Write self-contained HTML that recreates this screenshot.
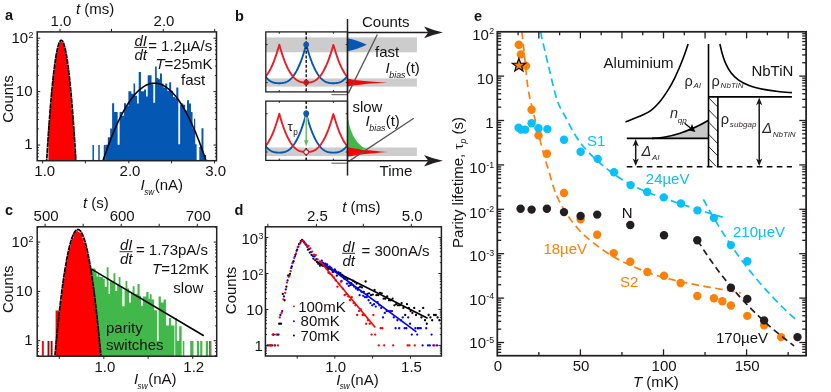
<!DOCTYPE html>
<html><head><meta charset="utf-8"><title>figure</title>
<style>html,body{margin:0;padding:0;background:#fff;}body{width:831px;height:392px;overflow:hidden;font-family:"Liberation Sans",sans-serif;}svg{display:block;}</style>
</head><body>
<svg style="will-change:transform" width="831" height="392" viewBox="0 0 831 392" font-family="'Liberation Sans', sans-serif">
<rect width="831" height="392" fill="#ffffff"/>
<path d="M48.4 160.7 V125 H49.85 V105.96 H51.3 V90.63 H52.75 V75.52 H54.2 V64.85 H55.65 V55.29 H57.1 V47.81 H58.55 V44.22 H60 V41.16 H61.45 V42.2 H62.9 V44.08 H64.35 V49.1 H65.8 V57.12 H67.25 V67.64 H68.7 V78.31 H70.15 V92.96 H71.6 V110.58 H73.05 V130.41 H74.5 V151.21 H75.95 V160.7 Z" stroke="none" fill="#ff0000" stroke-width="1.2"/>
<path d="M92.45 160.7 V145 h1.5 V160.7 ZM98.25 160.7 V145 h1.5 V160.7 ZM103.75 160.7 V145 h1.5 V160.7 ZM105.4 160.7 V144.8 H107.85 V160.7 ZM107.8 160.7 V137.2 H110.25 V160.7 ZM110.2 160.7 V128.5 H112.15 V160.7 ZM112.1 160.7 V103.2 H114.15 V160.7 ZM114.1 160.7 V111.9 H117.65 V160.7 ZM117.6 160.7 V144.8 H119.65 V160.7 ZM119.6 160.7 V111.9 H122.05 V160.7 ZM122 160.7 V115.8 H124.05 V160.7 ZM124 160.7 V103.2 H126.05 V160.7 ZM126 160.7 V106.3 H128.45 V160.7 ZM128.4 160.7 V91.3 H131.35 V160.7 ZM131.3 160.7 V93.8 H133.55 V160.7 ZM133.5 160.7 V83.6 H135.15 V160.7 ZM135.1 160.7 V95.8 H137.05 V160.7 ZM137 160.7 V103.4 H138.75 V160.7 ZM138.7 160.7 V72.1 H140.95 V160.7 ZM140.9 160.7 V91.3 H144.15 V160.7 ZM144.1 160.7 V89.4 H146.05 V160.7 ZM146 160.7 V96.4 H147.75 V160.7 ZM147.7 160.7 V75.3 H151.55 V160.7 ZM151.5 160.7 V84.3 H153.35 V160.7 ZM153.3 160.7 V102.8 H155.15 V160.7 ZM155.1 160.7 V66.6 H156.75 V160.7 ZM156.7 160.7 V77.9 H158.35 V160.7 ZM158.3 160.7 V79.2 H160.05 V160.7 ZM160 160.7 V73.4 H161.95 V160.7 ZM161.9 160.7 V83.6 H163.45 V160.7 ZM163.4 160.7 V87.5 H165.35 V160.7 ZM165.3 160.7 V83.6 H167.25 V160.7 ZM167.2 160.7 V90.7 H169.25 V160.7 ZM169.2 160.7 V82.3 H171.15 V160.7 ZM171.1 160.7 V90.7 H173.05 V160.7 ZM173 160.7 V97 H174.95 V160.7 ZM174.9 160.7 V98.3 H176.35 V160.7 ZM176.3 160.7 V87.5 H178.35 V160.7 ZM178.3 160.7 V144.2 H180.15 V160.7 ZM180.1 160.7 V104.7 H181.55 V160.7 ZM181.5 160.7 V103.4 H183.25 V160.7 ZM183.2 160.7 V104.7 H185.15 V160.7 ZM185.1 160.7 V110.5 H187.05 V160.7 ZM187 160.7 V100.2 H189.05 V160.7 ZM189 160.7 V103.4 H190.95 V160.7 ZM190.9 160.7 V112 H192.55 V160.7 ZM192.5 160.7 V128.3 H194.05 V160.7 ZM194 160.7 V118.8 H195.25 V160.7 ZM195.2 160.7 V144.2 H196.65 V160.7 ZM199.3 160.7 V147 H201.55 V160.7 ZM201.5 160.7 V128.3 H203.45 V160.7 ZM203.4 160.7 V155 H206.05 V160.7 Z" stroke="none" fill="#0458b4" stroke-width="1.2"/>
<clipPath id="cpa"><rect x="37.2" y="31.9" width="179.3" height="128.8"/></clipPath><g clip-path="url(#cpa)">
<path d="M45.5 180.84 L46 172.08 L46.5 163.61 L47 155.42 L47.5 147.51 L48 139.88 L48.5 132.53 L49 125.47 L49.5 118.69 L50 112.18 L50.5 105.96 L51 100.02 L51.5 94.37 L52 88.99 L52.5 83.9 L53 79.08 L53.5 74.55 L54 70.3 L54.5 66.33 L55 62.64 L55.5 59.24 L56 56.11 L56.5 53.27 L57 50.71 L57.5 48.43 L58 46.43 L58.5 44.71 L59 43.28 L59.5 42.12 L60 41.25 L60.5 40.66 L61 40.35 L61.5 40.32 L62 40.58 L62.5 41.11 L63 41.93 L63.5 43.02 L64 44.4 L64.5 46.06 L65 48.01 L65.5 50.23 L66 52.74 L66.5 55.52 L67 58.59 L67.5 61.94 L68 65.57 L68.5 69.48 L69 73.68 L69.5 78.15 L70 82.91 L70.5 87.95 L71 93.27 L71.5 98.87 L72 104.75 L72.5 110.92 L73 117.36 L73.5 124.09 L74 131.1 L74.5 138.39 L75 145.96 L75.5 153.81 L76 161.95 L76.5 170.37 L77 179.06 L77.5 188.04" stroke="#000" fill="none" stroke-width="1.7" stroke-dasharray="5 0.6"/>
<path d="M101 166.84 L102 163.74 L103 160.7 L104 157.72 L105 154.8 L106 151.93 L107 149.13 L108 146.38 L109 143.69 L110 141.06 L111 138.49 L112 135.98 L113 133.53 L114 131.13 L115 128.79 L116 126.51 L117 124.29 L118 122.13 L119 120.03 L120 117.98 L121 115.99 L122 114.06 L123 112.19 L124 110.38 L125 108.63 L126 106.93 L127 105.3 L128 103.72 L129 102.2 L130 100.74 L131 99.34 L132 97.99 L133 96.71 L134 95.48 L135 94.31 L136 93.2 L137 92.15 L138 91.16 L139 90.22 L140 89.34 L141 88.53 L142 87.77 L143 87.06 L144 86.42 L145 85.84 L146 85.31 L147 84.84 L148 84.43 L149 84.08 L150 83.79 L151 83.56 L152 83.38 L153 83.27 L154 83.21 L155 83.21 L156 83.27 L157 83.38 L158 83.56 L159 83.79 L160 84.08 L161 84.43 L162 84.84 L163 85.31 L164 85.84 L165 86.42 L166 87.06 L167 87.77 L168 88.53 L169 89.34 L170 90.22 L171 91.16 L172 92.15 L173 93.2 L174 94.31 L175 95.48 L176 96.71 L177 97.99 L178 99.34 L179 100.74 L180 102.2 L181 103.72 L182 105.3 L183 106.93 L184 108.63 L185 110.38 L186 112.19 L187 114.06 L188 115.99 L189 117.98 L190 120.03 L191 122.13 L192 124.29 L193 126.51 L194 128.79 L195 131.13 L196 133.53 L197 135.98 L198 138.49 L199 141.06 L200 143.69 L201 146.38 L202 149.13 L203 151.93 L204 154.8 L205 157.72 L206 160.7 L207 163.74 L208 166.84" stroke="#000" fill="none" stroke-width="1.6"/>
</g>
<rect x="37.2" y="31.9" width="179.3" height="128.8" fill="none" stroke="#231f20" stroke-width="1.5"/>
<line x1="37.2" y1="156.85" x2="38.8" y2="156.85" stroke="#231f20" stroke-width="1"/>
<line x1="37.2" y1="153.27" x2="38.8" y2="153.27" stroke="#231f20" stroke-width="1"/>
<line x1="37.2" y1="150.17" x2="38.8" y2="150.17" stroke="#231f20" stroke-width="1"/>
<line x1="37.2" y1="147.44" x2="38.8" y2="147.44" stroke="#231f20" stroke-width="1"/>
<line x1="37.2" y1="145" x2="40.2" y2="145" stroke="#231f20" stroke-width="1"/>
<line x1="37.2" y1="128.92" x2="38.8" y2="128.92" stroke="#231f20" stroke-width="1"/>
<line x1="37.2" y1="119.52" x2="38.8" y2="119.52" stroke="#231f20" stroke-width="1"/>
<line x1="37.2" y1="112.85" x2="38.8" y2="112.85" stroke="#231f20" stroke-width="1"/>
<line x1="37.2" y1="107.68" x2="38.8" y2="107.68" stroke="#231f20" stroke-width="1"/>
<line x1="37.2" y1="103.45" x2="38.8" y2="103.45" stroke="#231f20" stroke-width="1"/>
<line x1="37.2" y1="99.87" x2="38.8" y2="99.87" stroke="#231f20" stroke-width="1"/>
<line x1="37.2" y1="96.77" x2="38.8" y2="96.77" stroke="#231f20" stroke-width="1"/>
<line x1="37.2" y1="94.04" x2="38.8" y2="94.04" stroke="#231f20" stroke-width="1"/>
<line x1="37.2" y1="91.6" x2="40.2" y2="91.6" stroke="#231f20" stroke-width="1"/>
<line x1="37.2" y1="75.52" x2="38.8" y2="75.52" stroke="#231f20" stroke-width="1"/>
<line x1="37.2" y1="66.12" x2="38.8" y2="66.12" stroke="#231f20" stroke-width="1"/>
<line x1="37.2" y1="59.45" x2="38.8" y2="59.45" stroke="#231f20" stroke-width="1"/>
<line x1="37.2" y1="54.28" x2="38.8" y2="54.28" stroke="#231f20" stroke-width="1"/>
<line x1="37.2" y1="50.05" x2="38.8" y2="50.05" stroke="#231f20" stroke-width="1"/>
<line x1="37.2" y1="46.47" x2="38.8" y2="46.47" stroke="#231f20" stroke-width="1"/>
<line x1="37.2" y1="43.37" x2="38.8" y2="43.37" stroke="#231f20" stroke-width="1"/>
<line x1="37.2" y1="40.64" x2="38.8" y2="40.64" stroke="#231f20" stroke-width="1"/>
<line x1="37.2" y1="38.2" x2="40.2" y2="38.2" stroke="#231f20" stroke-width="1"/>
<line x1="216.5" y1="156.85" x2="214.9" y2="156.85" stroke="#231f20" stroke-width="1"/>
<line x1="216.5" y1="153.27" x2="214.9" y2="153.27" stroke="#231f20" stroke-width="1"/>
<line x1="216.5" y1="150.17" x2="214.9" y2="150.17" stroke="#231f20" stroke-width="1"/>
<line x1="216.5" y1="147.44" x2="214.9" y2="147.44" stroke="#231f20" stroke-width="1"/>
<line x1="216.5" y1="145" x2="213.5" y2="145" stroke="#231f20" stroke-width="1"/>
<line x1="216.5" y1="128.92" x2="214.9" y2="128.92" stroke="#231f20" stroke-width="1"/>
<line x1="216.5" y1="119.52" x2="214.9" y2="119.52" stroke="#231f20" stroke-width="1"/>
<line x1="216.5" y1="112.85" x2="214.9" y2="112.85" stroke="#231f20" stroke-width="1"/>
<line x1="216.5" y1="107.68" x2="214.9" y2="107.68" stroke="#231f20" stroke-width="1"/>
<line x1="216.5" y1="103.45" x2="214.9" y2="103.45" stroke="#231f20" stroke-width="1"/>
<line x1="216.5" y1="99.87" x2="214.9" y2="99.87" stroke="#231f20" stroke-width="1"/>
<line x1="216.5" y1="96.77" x2="214.9" y2="96.77" stroke="#231f20" stroke-width="1"/>
<line x1="216.5" y1="94.04" x2="214.9" y2="94.04" stroke="#231f20" stroke-width="1"/>
<line x1="216.5" y1="91.6" x2="213.5" y2="91.6" stroke="#231f20" stroke-width="1"/>
<line x1="216.5" y1="75.52" x2="214.9" y2="75.52" stroke="#231f20" stroke-width="1"/>
<line x1="216.5" y1="66.12" x2="214.9" y2="66.12" stroke="#231f20" stroke-width="1"/>
<line x1="216.5" y1="59.45" x2="214.9" y2="59.45" stroke="#231f20" stroke-width="1"/>
<line x1="216.5" y1="54.28" x2="214.9" y2="54.28" stroke="#231f20" stroke-width="1"/>
<line x1="216.5" y1="50.05" x2="214.9" y2="50.05" stroke="#231f20" stroke-width="1"/>
<line x1="216.5" y1="46.47" x2="214.9" y2="46.47" stroke="#231f20" stroke-width="1"/>
<line x1="216.5" y1="43.37" x2="214.9" y2="43.37" stroke="#231f20" stroke-width="1"/>
<line x1="216.5" y1="40.64" x2="214.9" y2="40.64" stroke="#231f20" stroke-width="1"/>
<line x1="216.5" y1="38.2" x2="213.5" y2="38.2" stroke="#231f20" stroke-width="1"/>
<line x1="60" y1="31.9" x2="60" y2="28.9" stroke="#231f20" stroke-width="1"/>
<line x1="111.5" y1="31.9" x2="111.5" y2="28.9" stroke="#231f20" stroke-width="1"/>
<line x1="163.3" y1="31.9" x2="163.3" y2="28.9" stroke="#231f20" stroke-width="1"/>
<line x1="214.7" y1="31.9" x2="214.7" y2="28.9" stroke="#231f20" stroke-width="1"/>
<line x1="42.6" y1="160.7" x2="42.6" y2="163.3" stroke="#231f20" stroke-width="1"/>
<line x1="85.4" y1="160.7" x2="85.4" y2="163.3" stroke="#231f20" stroke-width="1"/>
<line x1="128.8" y1="160.7" x2="128.8" y2="163.3" stroke="#231f20" stroke-width="1"/>
<line x1="171.6" y1="160.7" x2="171.6" y2="163.3" stroke="#231f20" stroke-width="1"/>
<line x1="214.6" y1="160.7" x2="214.6" y2="163.3" stroke="#231f20" stroke-width="1"/>
<text x="5" y="19.9" font-size="14.5" text-anchor="start" fill="#151213" font-weight="bold">a</text>
<text x="61" y="26.3" font-size="15" text-anchor="middle" fill="#151213">1.0</text>
<text x="164" y="26.3" font-size="15" text-anchor="middle" fill="#151213">2.0</text>
<text x="76" y="14" font-size="15" fill="#151213"><tspan font-style="italic">t</tspan> (ms)</text>
<text x="33.4" y="42.6" font-size="15" text-anchor="end" fill="#151213">10<tspan dx="0.3" dy="-4.8" font-size="8.85">2</tspan></text>
<text x="32.5" y="96.4" font-size="15" text-anchor="end" fill="#151213">10</text>
<text x="32.6" y="149.3" font-size="15" text-anchor="end" fill="#151213">1</text>
<text x="13.2" y="99" font-size="15" text-anchor="middle" fill="#151213" transform="rotate(-90 13.2 99)">Counts</text>
<text x="44.8" y="175.6" font-size="15" text-anchor="middle" fill="#151213">1.0</text>
<text x="130" y="175.6" font-size="15" text-anchor="middle" fill="#151213">2.0</text>
<text x="215.6" y="175.6" font-size="15" text-anchor="middle" fill="#151213">3.0</text>
<text x="140.6" y="190.1" font-size="15" fill="#151213"><tspan font-style="italic">I</tspan><tspan dx="-0.6" dy="4.7" font-size="8.2" font-style="italic">sw</tspan><tspan dx="0.6" dy="-4.7">(nA)</tspan></text>
<text x="134.5" y="45.8" font-size="15" font-style="italic" fill="#151213">dI</text>
<line x1="134.2" y1="47.4" x2="147.1" y2="47.4" stroke="#3a2a2a" stroke-width="1"/>
<text x="134.5" y="60" font-size="15" font-style="italic" fill="#151213">dt</text>
<text x="148.2" y="50.5" font-size="15" text-anchor="start" fill="#151213">= 1.2µA/s</text>
<text x="155.4" y="68.9" font-size="15" fill="#151213"><tspan font-style="italic">T</tspan>=25mK</text>
<text x="181" y="84.8" font-size="15" text-anchor="start" fill="#151213">fast</text>
<path d="M84 356.2 V266 H91.05 V356.2 ZM91 356.2 V268.5 H95.55 V356.2 ZM95.5 356.2 V273.3 H96.65 V356.2 ZM96.6 356.2 V276.5 H98.25 V356.2 ZM98.2 356.2 V273.3 H99.35 V356.2 ZM99.3 356.2 V277 H103.15 V356.2 ZM103.1 356.2 V278.7 H104.75 V356.2 ZM104.7 356.2 V287.1 H106.75 V356.2 ZM106.7 356.2 V267.2 H108.55 V356.2 ZM108.5 356.2 V294 H110.05 V356.2 ZM110 356.2 V281 H113.55 V356.2 ZM113.5 356.2 V273.3 H115.35 V356.2 ZM115.3 356.2 V291 H117.25 V356.2 ZM117.2 356.2 V284 H118.75 V356.2 ZM118.7 356.2 V277.1 H120.45 V356.2 ZM120.4 356.2 V286.3 H122.25 V356.2 ZM122.2 356.2 V306.2 H124.65 V356.2 ZM124.6 356.2 V288 H125.55 V356.2 ZM125.5 356.2 V281 H127.35 V356.2 ZM127.3 356.2 V288.6 H129.05 V356.2 ZM129 356.2 V302.4 H131.05 V356.2 ZM131 356.2 V292.5 H132.75 V356.2 ZM132.7 356.2 V286.3 H134.55 V356.2 ZM134.5 356.2 V294 H137.55 V356.2 ZM137.5 356.2 V284 H139.65 V356.2 ZM139.6 356.2 V295.7 H141.05 V356.2 ZM141 356.2 V305.7 H142.95 V356.2 ZM142.9 356.2 V296.5 H146.35 V356.2 ZM146.3 356.2 V291.9 H148.55 V356.2 ZM148.5 356.2 V298.8 H149.85 V356.2 ZM149.8 356.2 V294.2 H151.65 V356.2 ZM151.6 356.2 V299.5 H154.05 V356.2 ZM154 356.2 V310.3 H157.05 V356.2 ZM157 356.2 V340.9 H158.65 V356.2 ZM158.6 356.2 V296.5 H160.85 V356.2 ZM160.8 356.2 V302.6 H163.65 V356.2 ZM163.6 356.2 V299.5 H165.95 V356.2 ZM165.9 356.2 V325.6 H168.95 V356.2 ZM168.9 356.2 V317.9 H171.15 V356.2 ZM171.1 356.2 V325.6 H174.45 V356.2 ZM175.2 356.2 V317.9 H176.85 V356.2 ZM176.8 356.2 V340.9 H179.25 V356.2 ZM179.2 356.2 V326.3 H181.65 V356.2 ZM182.8 356.2 V340.9 H184.35 V356.2 ZM190.2 356.2 V340.9 H193.45 V356.2 ZM196.9 356.2 V341 H199.05 V356.2 ZM200.2 356.2 V341 H202.35 V356.2 ZM205.8 356.2 V341 H208.05 V356.2 Z" stroke="none" fill="#42b74a" stroke-width="1.2"/>
<rect x="209.1" y="341" width="1.6" height="15" fill="#2a7a33"/><rect x="210.7" y="341" width="0.7" height="15" fill="#a0402a"/>
<path d="M55.6 356.2 V310.5 h3.2 V356.2 ZM58.6 356.2 V313.38 H60.08 V300.98 H61.56 V290.14 H63.04 V278.71 H64.52 V269.32 H66 V261.06 H67.48 V252.88 H68.96 V247.2 H70.44 V242.16 H71.92 V238.25 H73.4 V233.67 H74.88 V231.95 H76.36 V230.43 H77.84 V231.83 H79.32 V232.6 H80.8 V233.35 H82.28 V238.33 H83.76 V242.45 H85.24 V247.02 H86.72 V253.19 H88.2 V259.56 H89.68 V267.61 H91.16 V278.03 H92.64 V287.52 H94.12 V299.26 H95.6 V311.9 H97.08 V325.05 H98.56 V340.54 H100.04 V356.2 Z" stroke="none" fill="#ff0000" stroke-width="1.2"/>
<rect x="41.9" y="341" width="1.9" height="15.2" fill="#ff0000"/>
<rect x="47.55" y="341" width="1.9" height="15.2" fill="#8a0f0f"/>
<rect x="50.65" y="341" width="1.9" height="15.2" fill="#8a0f0f"/>
<clipPath id="cpc"><rect x="37.2" y="226.8" width="179.5" height="129.4"/></clipPath><g clip-path="url(#cpc)">
<path d="M53 377.76 L53.5 371.87 L54 366.09 L54.5 360.44 L55 354.9 L55.5 349.49 L56 344.19 L56.5 339.01 L57 333.95 L57.5 329.02 L58 324.2 L58.5 319.5 L59 314.92 L59.5 310.46 L60 306.12 L60.5 301.9 L61 297.8 L61.5 293.82 L62 289.95 L62.5 286.21 L63 282.59 L63.5 279.09 L64 275.7 L64.5 272.44 L65 269.29 L65.5 266.27 L66 263.36 L66.5 260.58 L67 257.91 L67.5 255.36 L68 252.94 L68.5 250.63 L69 248.44 L69.5 246.37 L70 244.42 L70.5 242.59 L71 240.89 L71.5 239.29 L72 237.82 L72.5 236.47 L73 235.24 L73.5 234.13 L74 233.14 L74.5 232.26 L75 231.51 L75.5 230.88 L76 230.36 L76.5 229.97 L77 229.69 L77.5 229.54 L78 229.5 L78.5 229.59 L79 229.79 L79.5 230.11 L80 230.55 L80.5 231.12 L81 231.8 L81.5 232.6 L82 233.52 L82.5 234.56 L83 235.72 L83.5 237 L84 238.4 L84.5 239.92 L85 241.55 L85.5 243.31 L86 245.19 L86.5 247.19 L87 249.3 L87.5 251.54 L88 253.89 L88.5 256.37 L89 258.96 L89.5 261.68 L90 264.51 L90.5 267.46 L91 270.54 L91.5 273.73 L92 277.04 L92.5 280.47 L93 284.02 L93.5 287.69 L94 291.48 L94.5 295.39 L95 299.42 L95.5 303.57 L96 307.84 L96.5 312.23 L97 316.74 L97.5 321.36 L98 326.11 L98.5 330.98 L99 335.96 L99.5 341.07 L100 346.29 L100.5 351.64 L101 357.1 L101.5 362.69 L102 368.39" stroke="#000" fill="none" stroke-width="1.7" stroke-dasharray="5 0.6"/>
</g>
<line x1="91.5" y1="269.09" x2="203.8" y2="335.7" stroke="#000" stroke-width="1.6"/>
<rect x="37.2" y="226.8" width="179.5" height="129.4" fill="none" stroke="#231f20" stroke-width="1.5"/>
<line x1="37.2" y1="355.54" x2="38.8" y2="355.54" stroke="#231f20" stroke-width="1"/>
<line x1="37.2" y1="351.64" x2="38.8" y2="351.64" stroke="#231f20" stroke-width="1"/>
<line x1="37.2" y1="348.34" x2="38.8" y2="348.34" stroke="#231f20" stroke-width="1"/>
<line x1="37.2" y1="345.48" x2="38.8" y2="345.48" stroke="#231f20" stroke-width="1"/>
<line x1="37.2" y1="342.96" x2="38.8" y2="342.96" stroke="#231f20" stroke-width="1"/>
<line x1="37.2" y1="340.7" x2="40.2" y2="340.7" stroke="#231f20" stroke-width="1"/>
<line x1="37.2" y1="325.86" x2="38.8" y2="325.86" stroke="#231f20" stroke-width="1"/>
<line x1="37.2" y1="317.18" x2="38.8" y2="317.18" stroke="#231f20" stroke-width="1"/>
<line x1="37.2" y1="311.02" x2="38.8" y2="311.02" stroke="#231f20" stroke-width="1"/>
<line x1="37.2" y1="306.24" x2="38.8" y2="306.24" stroke="#231f20" stroke-width="1"/>
<line x1="37.2" y1="302.34" x2="38.8" y2="302.34" stroke="#231f20" stroke-width="1"/>
<line x1="37.2" y1="299.04" x2="38.8" y2="299.04" stroke="#231f20" stroke-width="1"/>
<line x1="37.2" y1="296.18" x2="38.8" y2="296.18" stroke="#231f20" stroke-width="1"/>
<line x1="37.2" y1="293.66" x2="38.8" y2="293.66" stroke="#231f20" stroke-width="1"/>
<line x1="37.2" y1="291.4" x2="40.2" y2="291.4" stroke="#231f20" stroke-width="1"/>
<line x1="37.2" y1="276.56" x2="38.8" y2="276.56" stroke="#231f20" stroke-width="1"/>
<line x1="37.2" y1="267.88" x2="38.8" y2="267.88" stroke="#231f20" stroke-width="1"/>
<line x1="37.2" y1="261.72" x2="38.8" y2="261.72" stroke="#231f20" stroke-width="1"/>
<line x1="37.2" y1="256.94" x2="38.8" y2="256.94" stroke="#231f20" stroke-width="1"/>
<line x1="37.2" y1="253.04" x2="38.8" y2="253.04" stroke="#231f20" stroke-width="1"/>
<line x1="37.2" y1="249.74" x2="38.8" y2="249.74" stroke="#231f20" stroke-width="1"/>
<line x1="37.2" y1="246.88" x2="38.8" y2="246.88" stroke="#231f20" stroke-width="1"/>
<line x1="37.2" y1="244.36" x2="38.8" y2="244.36" stroke="#231f20" stroke-width="1"/>
<line x1="37.2" y1="242.1" x2="40.2" y2="242.1" stroke="#231f20" stroke-width="1"/>
<line x1="37.2" y1="227.26" x2="38.8" y2="227.26" stroke="#231f20" stroke-width="1"/>
<line x1="216.7" y1="355.54" x2="215.1" y2="355.54" stroke="#231f20" stroke-width="1"/>
<line x1="216.7" y1="351.64" x2="215.1" y2="351.64" stroke="#231f20" stroke-width="1"/>
<line x1="216.7" y1="348.34" x2="215.1" y2="348.34" stroke="#231f20" stroke-width="1"/>
<line x1="216.7" y1="345.48" x2="215.1" y2="345.48" stroke="#231f20" stroke-width="1"/>
<line x1="216.7" y1="342.96" x2="215.1" y2="342.96" stroke="#231f20" stroke-width="1"/>
<line x1="216.7" y1="340.7" x2="213.7" y2="340.7" stroke="#231f20" stroke-width="1"/>
<line x1="216.7" y1="325.86" x2="215.1" y2="325.86" stroke="#231f20" stroke-width="1"/>
<line x1="216.7" y1="317.18" x2="215.1" y2="317.18" stroke="#231f20" stroke-width="1"/>
<line x1="216.7" y1="311.02" x2="215.1" y2="311.02" stroke="#231f20" stroke-width="1"/>
<line x1="216.7" y1="306.24" x2="215.1" y2="306.24" stroke="#231f20" stroke-width="1"/>
<line x1="216.7" y1="302.34" x2="215.1" y2="302.34" stroke="#231f20" stroke-width="1"/>
<line x1="216.7" y1="299.04" x2="215.1" y2="299.04" stroke="#231f20" stroke-width="1"/>
<line x1="216.7" y1="296.18" x2="215.1" y2="296.18" stroke="#231f20" stroke-width="1"/>
<line x1="216.7" y1="293.66" x2="215.1" y2="293.66" stroke="#231f20" stroke-width="1"/>
<line x1="216.7" y1="291.4" x2="213.7" y2="291.4" stroke="#231f20" stroke-width="1"/>
<line x1="216.7" y1="276.56" x2="215.1" y2="276.56" stroke="#231f20" stroke-width="1"/>
<line x1="216.7" y1="267.88" x2="215.1" y2="267.88" stroke="#231f20" stroke-width="1"/>
<line x1="216.7" y1="261.72" x2="215.1" y2="261.72" stroke="#231f20" stroke-width="1"/>
<line x1="216.7" y1="256.94" x2="215.1" y2="256.94" stroke="#231f20" stroke-width="1"/>
<line x1="216.7" y1="253.04" x2="215.1" y2="253.04" stroke="#231f20" stroke-width="1"/>
<line x1="216.7" y1="249.74" x2="215.1" y2="249.74" stroke="#231f20" stroke-width="1"/>
<line x1="216.7" y1="246.88" x2="215.1" y2="246.88" stroke="#231f20" stroke-width="1"/>
<line x1="216.7" y1="244.36" x2="215.1" y2="244.36" stroke="#231f20" stroke-width="1"/>
<line x1="216.7" y1="242.1" x2="213.7" y2="242.1" stroke="#231f20" stroke-width="1"/>
<line x1="216.7" y1="227.26" x2="215.1" y2="227.26" stroke="#231f20" stroke-width="1"/>
<line x1="45.1" y1="226.8" x2="45.1" y2="223.8" stroke="#231f20" stroke-width="1"/>
<line x1="83.2" y1="226.8" x2="83.2" y2="223.8" stroke="#231f20" stroke-width="1"/>
<line x1="121.2" y1="226.8" x2="121.2" y2="223.8" stroke="#231f20" stroke-width="1"/>
<line x1="159.2" y1="226.8" x2="159.2" y2="223.8" stroke="#231f20" stroke-width="1"/>
<line x1="197.3" y1="226.8" x2="197.3" y2="223.8" stroke="#231f20" stroke-width="1"/>
<line x1="59.3" y1="356.2" x2="59.3" y2="358.8" stroke="#231f20" stroke-width="1"/>
<line x1="103.8" y1="356.2" x2="103.8" y2="358.8" stroke="#231f20" stroke-width="1"/>
<line x1="148.1" y1="356.2" x2="148.1" y2="358.8" stroke="#231f20" stroke-width="1"/>
<line x1="192.7" y1="356.2" x2="192.7" y2="358.8" stroke="#231f20" stroke-width="1"/>
<text x="5" y="214.7" font-size="14.5" text-anchor="start" fill="#151213" font-weight="bold">c</text>
<text x="46.1" y="221.3" font-size="15" text-anchor="middle" fill="#151213">500</text>
<text x="122.2" y="221.3" font-size="15" text-anchor="middle" fill="#151213">600</text>
<text x="198.3" y="221.3" font-size="15" text-anchor="middle" fill="#151213">700</text>
<text x="83" y="207.8" font-size="15" fill="#151213"><tspan font-style="italic">t</tspan> (s)</text>
<text x="33.5" y="246.8" font-size="15" text-anchor="end" fill="#151213">10<tspan dx="0.3" dy="-4.8" font-size="8.85">2</tspan></text>
<text x="32.5" y="295.8" font-size="15" text-anchor="end" fill="#151213">10</text>
<text x="32.6" y="344.8" font-size="15" text-anchor="end" fill="#151213">1</text>
<text x="13.2" y="289.2" font-size="15" text-anchor="middle" fill="#151213" transform="rotate(-90 13.2 289.2)">Counts</text>
<text x="104.9" y="371.8" font-size="15" text-anchor="middle" fill="#151213">1.0</text>
<text x="193.8" y="371.8" font-size="15" text-anchor="middle" fill="#151213">1.2</text>
<text x="134" y="384" font-size="15" fill="#151213"><tspan font-style="italic">I</tspan><tspan dx="-0.6" dy="4.7" font-size="8.2" font-style="italic">sw</tspan><tspan dx="0.6" dy="-4.7">(nA)</tspan></text>
<text x="119.9" y="250.1" font-size="15" font-style="italic" fill="#151213">dI</text>
<line x1="119.6" y1="251.7" x2="132.5" y2="251.7" stroke="#3a2a2a" stroke-width="1"/>
<text x="119.9" y="264.3" font-size="15" font-style="italic" fill="#151213">dt</text>
<text x="135.9" y="255" font-size="15" text-anchor="start" fill="#151213">= 1.73pA/s</text>
<text x="152.0" y="274.1" font-size="15" fill="#151213"><tspan font-style="italic">T</tspan>=12mK</text>
<text x="173.3" y="293.3" font-size="15" text-anchor="start" fill="#151213">slow</text>
<text x="106" y="333.4" font-size="15" text-anchor="start" fill="#151213">parity</text>
<text x="106" y="350.4" font-size="15" text-anchor="start" fill="#151213">switches</text>
<path d="M270.2 345.4h0M272 345.4h0M273.8 334.58h0M277.4 334.58h0M279.2 323.76h0M281 323.76h0M282.8 293.94h0M284.6 300.27h0M286.4 286.68h0M288.2 275.5h0M290 273.82h0M291.8 266.46h0M293.6 261.26h0M295.4 254.86h0M297.2 249.64h0M299 244.23h0M300.8 241.21h0M302.6 240.59h0M304.4 242.66h0M306.2 244.59h0M308 249.67h0M309.8 252.53h0M311.6 254.95h0M313.4 258.7h0M315.2 260.29h0M317 261.92h0M318.8 262.91h0M320.6 264.5h0M322.4 265.68h0M324.2 265.4h0M326 267.59h0M327.8 269.28h0M329.6 266.76h0M331.4 268.25h0M333.2 271.73h0M335 269.77h0M336.8 275.67h0M338.6 272.44h0M340.4 273.19h0M342.2 274.8h0M344 278.41h0M345.8 277.58h0M347.6 279.07h0M349.4 283.12h0M351.2 283.12h0M353 280.71h0M354.8 282h0M356.6 283.71h0M358.4 287.81h0M360.2 286.68h0M362 287.42h0M363.8 291.79h0M365.6 281.48h0M367.4 293.94h0M369.2 293.37h0M371 295.14h0M372.8 294.53h0M374.6 289.89h0M376.4 295.14h0M378.2 295.14h0M380 292.83h0M381.8 293.37h0M383.6 298.63h0M385.4 298.63h0M387.2 296.45h0M389 300.27h0M390.8 300.27h0M392.6 298.63h0M394.4 305.35h0M396.2 304.2h0M398 305.35h0M399.8 305.35h0M401.6 303.12h0M403.4 307.96h0M405.2 315.02h0M407 304.2h0M408.8 307.96h0M410.6 311.09h0M412.4 312.93h0M414.2 307.96h0M416 315.02h0M417.8 328.25h0M419.6 311.09h0M421.4 317.43h0M423.2 307.96h0M425 320.27h0M426.8 323.76h0M428.6 315.02h0M430.4 317.43h0M432.2 320.27h0M434 315.02h0M435.8 315.02h0M437.6 317.43h0M439.4 320.27h0" stroke="#000000" fill="none" stroke-width="2.3" stroke-linecap="round"/>
<path d="M267.8 345.4h0M273.2 334.58h0M275 345.4h0M278.6 334.58h0M280.4 315.02h0M282.2 311.09h0M284 296.45h0M285.8 289.45h0M287.6 280.47h0M289.4 275.85h0M291.2 267.92h0M293 262.29h0M294.8 256.56h0M296.6 250.73h0M298.4 246.66h0M300.2 243.14h0M302 239.89h0M303.8 241.61h0M305.6 244.4h0M307.4 246.88h0M309.2 249.11h0M311 252.05h0M312.8 256.04h0M314.6 256.3h0M316.4 259.13h0M318.2 263.73h0M320 265.87h0M321.8 260.77h0M323.6 263.81h0M325.4 263.73h0M327.2 264.32h0M329 267.07h0M330.8 267.59h0M332.6 272.01h0M334.4 269.77h0M336.2 271.45h0M338 272.74h0M339.8 273.04h0M341.6 280.96h0M343.4 276.6h0M345.2 278.85h0M347 283.71h0M348.8 285.97h0M350.6 284.96h0M352.4 284.64h0M354.2 286.68h0M356 288.61h0M357.8 289.89h0M359.6 295.14h0M361.4 291.79h0M363.2 295.78h0M365 297.14h0M366.8 297.14h0M368.6 300.27h0M370.4 303.12h0M372.2 305.35h0M374 304.2h0M375.8 306.6h0M377.6 302.11h0M379.4 305.35h0M381.2 307.96h0M383 317.43h0M384.8 312.93h0M386.6 311.09h0M388.4 311.09h0M390.2 311.09h0M392 311.09h0M393.8 317.43h0M395.6 328.25h0M397.4 320.27h0M399.2 328.25h0M401 320.27h0M402.8 317.43h0M404.6 328.25h0M406.4 328.25h0M408.2 317.43h0M410 323.76h0M411.8 334.58h0M415.4 328.25h0M417.2 334.58h0M419 328.25h0M420.8 328.25h0M422.6 345.4h0M426.2 328.25h0M428 345.4h0M429.8 345.4h0M431.6 334.58h0M433.4 345.4h0M437 345.4h0" stroke="#0000ff" fill="none" stroke-width="2.3" stroke-linecap="round"/>
<path d="M269 345.4h0M270.8 345.4h0M272.6 334.58h0M274.4 345.4h0M276.2 334.58h0M278 345.4h0M279.8 317.43h0M281.6 312.93h0M283.4 299.43h0M285.2 292.83h0M287 282.55h0M288.8 276.79h0M290.6 271.18h0M292.4 263.15h0M294.2 258.05h0M296 253.5h0M297.8 247.2h0M299.6 243.83h0M301.4 241.39h0M303.2 240.94h0M305 243.34h0M306.8 245.71h0M308.6 246h0M310.4 248.43h0M312.2 251.55h0M314 254.77h0M315.8 255.1h0M317.6 259.38h0M319.4 261.55h0M321.2 262.83h0M323 264.67h0M324.8 265.31h0M326.6 268.47h0M328.4 272.74h0M330.2 273.82h0M332 275.32h0M333.8 277.38h0M335.6 280.23h0M337.4 286.68h0M339.2 284.01h0M341 281.74h0M342.8 288.61h0M344.6 295.14h0M346.4 293.94h0M348.2 296.45h0M350 300.27h0M351.8 297.14h0M353.6 303.12h0M355.4 305.35h0M357.2 315.02h0M359 311.09h0M360.8 309.45h0M362.6 315.02h0M364.4 315.02h0M366.2 323.76h0M368 320.27h0M369.8 323.76h0M371.6 334.58h0M373.4 315.02h0M375.2 334.58h0M378.8 345.4h0M380.6 328.25h0M382.4 328.25h0M384.2 345.4h0M393.2 345.4h0M407.6 345.4h0M409.4 345.4h0M414.8 345.4h0M434.6 345.4h0" stroke="#ff0000" fill="none" stroke-width="2.3" stroke-linecap="round"/>
<line x1="318" y1="263" x2="427.6" y2="318.24" stroke="#000000" stroke-width="1.6"/>
<line x1="322" y1="262" x2="416.4" y2="331.95" stroke="#0000ff" stroke-width="1.6"/>
<line x1="319.6" y1="260.7" x2="375.3" y2="327.54" stroke="#ff0000" stroke-width="1.6"/>
<rect x="265.4" y="226.8" width="176" height="129.2" fill="none" stroke="#231f20" stroke-width="1.5"/>
<line x1="265.4" y1="353.38" x2="267" y2="353.38" stroke="#231f20" stroke-width="1"/>
<line x1="265.4" y1="350.97" x2="267" y2="350.97" stroke="#231f20" stroke-width="1"/>
<line x1="265.4" y1="348.88" x2="267" y2="348.88" stroke="#231f20" stroke-width="1"/>
<line x1="265.4" y1="347.04" x2="267" y2="347.04" stroke="#231f20" stroke-width="1"/>
<line x1="265.4" y1="345.4" x2="268.4" y2="345.4" stroke="#231f20" stroke-width="1"/>
<line x1="265.4" y1="334.58" x2="267" y2="334.58" stroke="#231f20" stroke-width="1"/>
<line x1="265.4" y1="328.25" x2="267" y2="328.25" stroke="#231f20" stroke-width="1"/>
<line x1="265.4" y1="323.76" x2="267" y2="323.76" stroke="#231f20" stroke-width="1"/>
<line x1="265.4" y1="320.27" x2="267" y2="320.27" stroke="#231f20" stroke-width="1"/>
<line x1="265.4" y1="317.43" x2="267" y2="317.43" stroke="#231f20" stroke-width="1"/>
<line x1="265.4" y1="315.02" x2="267" y2="315.02" stroke="#231f20" stroke-width="1"/>
<line x1="265.4" y1="312.93" x2="267" y2="312.93" stroke="#231f20" stroke-width="1"/>
<line x1="265.4" y1="311.09" x2="267" y2="311.09" stroke="#231f20" stroke-width="1"/>
<line x1="265.4" y1="309.45" x2="268.4" y2="309.45" stroke="#231f20" stroke-width="1"/>
<line x1="265.4" y1="298.63" x2="267" y2="298.63" stroke="#231f20" stroke-width="1"/>
<line x1="265.4" y1="292.3" x2="267" y2="292.3" stroke="#231f20" stroke-width="1"/>
<line x1="265.4" y1="287.81" x2="267" y2="287.81" stroke="#231f20" stroke-width="1"/>
<line x1="265.4" y1="284.32" x2="267" y2="284.32" stroke="#231f20" stroke-width="1"/>
<line x1="265.4" y1="281.48" x2="267" y2="281.48" stroke="#231f20" stroke-width="1"/>
<line x1="265.4" y1="279.07" x2="267" y2="279.07" stroke="#231f20" stroke-width="1"/>
<line x1="265.4" y1="276.98" x2="267" y2="276.98" stroke="#231f20" stroke-width="1"/>
<line x1="265.4" y1="275.14" x2="267" y2="275.14" stroke="#231f20" stroke-width="1"/>
<line x1="265.4" y1="273.5" x2="268.4" y2="273.5" stroke="#231f20" stroke-width="1"/>
<line x1="265.4" y1="262.68" x2="267" y2="262.68" stroke="#231f20" stroke-width="1"/>
<line x1="265.4" y1="256.35" x2="267" y2="256.35" stroke="#231f20" stroke-width="1"/>
<line x1="265.4" y1="251.86" x2="267" y2="251.86" stroke="#231f20" stroke-width="1"/>
<line x1="265.4" y1="248.37" x2="267" y2="248.37" stroke="#231f20" stroke-width="1"/>
<line x1="265.4" y1="245.53" x2="267" y2="245.53" stroke="#231f20" stroke-width="1"/>
<line x1="265.4" y1="243.12" x2="267" y2="243.12" stroke="#231f20" stroke-width="1"/>
<line x1="265.4" y1="241.03" x2="267" y2="241.03" stroke="#231f20" stroke-width="1"/>
<line x1="265.4" y1="239.19" x2="267" y2="239.19" stroke="#231f20" stroke-width="1"/>
<line x1="265.4" y1="237.55" x2="268.4" y2="237.55" stroke="#231f20" stroke-width="1"/>
<line x1="441.4" y1="353.38" x2="439.8" y2="353.38" stroke="#231f20" stroke-width="1"/>
<line x1="441.4" y1="350.97" x2="439.8" y2="350.97" stroke="#231f20" stroke-width="1"/>
<line x1="441.4" y1="348.88" x2="439.8" y2="348.88" stroke="#231f20" stroke-width="1"/>
<line x1="441.4" y1="347.04" x2="439.8" y2="347.04" stroke="#231f20" stroke-width="1"/>
<line x1="441.4" y1="345.4" x2="438.4" y2="345.4" stroke="#231f20" stroke-width="1"/>
<line x1="441.4" y1="334.58" x2="439.8" y2="334.58" stroke="#231f20" stroke-width="1"/>
<line x1="441.4" y1="328.25" x2="439.8" y2="328.25" stroke="#231f20" stroke-width="1"/>
<line x1="441.4" y1="323.76" x2="439.8" y2="323.76" stroke="#231f20" stroke-width="1"/>
<line x1="441.4" y1="320.27" x2="439.8" y2="320.27" stroke="#231f20" stroke-width="1"/>
<line x1="441.4" y1="317.43" x2="439.8" y2="317.43" stroke="#231f20" stroke-width="1"/>
<line x1="441.4" y1="315.02" x2="439.8" y2="315.02" stroke="#231f20" stroke-width="1"/>
<line x1="441.4" y1="312.93" x2="439.8" y2="312.93" stroke="#231f20" stroke-width="1"/>
<line x1="441.4" y1="311.09" x2="439.8" y2="311.09" stroke="#231f20" stroke-width="1"/>
<line x1="441.4" y1="309.45" x2="438.4" y2="309.45" stroke="#231f20" stroke-width="1"/>
<line x1="441.4" y1="298.63" x2="439.8" y2="298.63" stroke="#231f20" stroke-width="1"/>
<line x1="441.4" y1="292.3" x2="439.8" y2="292.3" stroke="#231f20" stroke-width="1"/>
<line x1="441.4" y1="287.81" x2="439.8" y2="287.81" stroke="#231f20" stroke-width="1"/>
<line x1="441.4" y1="284.32" x2="439.8" y2="284.32" stroke="#231f20" stroke-width="1"/>
<line x1="441.4" y1="281.48" x2="439.8" y2="281.48" stroke="#231f20" stroke-width="1"/>
<line x1="441.4" y1="279.07" x2="439.8" y2="279.07" stroke="#231f20" stroke-width="1"/>
<line x1="441.4" y1="276.98" x2="439.8" y2="276.98" stroke="#231f20" stroke-width="1"/>
<line x1="441.4" y1="275.14" x2="439.8" y2="275.14" stroke="#231f20" stroke-width="1"/>
<line x1="441.4" y1="273.5" x2="438.4" y2="273.5" stroke="#231f20" stroke-width="1"/>
<line x1="441.4" y1="262.68" x2="439.8" y2="262.68" stroke="#231f20" stroke-width="1"/>
<line x1="441.4" y1="256.35" x2="439.8" y2="256.35" stroke="#231f20" stroke-width="1"/>
<line x1="441.4" y1="251.86" x2="439.8" y2="251.86" stroke="#231f20" stroke-width="1"/>
<line x1="441.4" y1="248.37" x2="439.8" y2="248.37" stroke="#231f20" stroke-width="1"/>
<line x1="441.4" y1="245.53" x2="439.8" y2="245.53" stroke="#231f20" stroke-width="1"/>
<line x1="441.4" y1="243.12" x2="439.8" y2="243.12" stroke="#231f20" stroke-width="1"/>
<line x1="441.4" y1="241.03" x2="439.8" y2="241.03" stroke="#231f20" stroke-width="1"/>
<line x1="441.4" y1="239.19" x2="439.8" y2="239.19" stroke="#231f20" stroke-width="1"/>
<line x1="441.4" y1="237.55" x2="438.4" y2="237.55" stroke="#231f20" stroke-width="1"/>
<line x1="267.9" y1="226.8" x2="267.9" y2="223.8" stroke="#231f20" stroke-width="1"/>
<line x1="316.4" y1="226.8" x2="316.4" y2="223.8" stroke="#231f20" stroke-width="1"/>
<line x1="363.3" y1="226.8" x2="363.3" y2="223.8" stroke="#231f20" stroke-width="1"/>
<line x1="411.3" y1="226.8" x2="411.3" y2="223.8" stroke="#231f20" stroke-width="1"/>
<line x1="297.2" y1="356" x2="297.2" y2="358.6" stroke="#231f20" stroke-width="1"/>
<line x1="334.8" y1="356" x2="334.8" y2="358.6" stroke="#231f20" stroke-width="1"/>
<line x1="372.6" y1="356" x2="372.6" y2="358.6" stroke="#231f20" stroke-width="1"/>
<line x1="410.5" y1="356" x2="410.5" y2="358.6" stroke="#231f20" stroke-width="1"/>
<text x="234.6" y="214.7" font-size="14.5" text-anchor="start" fill="#151213" font-weight="bold">d</text>
<text x="317.4" y="221.3" font-size="15" text-anchor="middle" fill="#151213">2.5</text>
<text x="412.3" y="221.3" font-size="15" text-anchor="middle" fill="#151213">5.0</text>
<text x="342.2" y="211.6" font-size="15" fill="#151213"><tspan font-style="italic">t</tspan> (ms)</text>
<text x="263.4" y="244" font-size="15" text-anchor="end" fill="#151213">10<tspan dx="0.3" dy="-4.8" font-size="8.85">3</tspan></text>
<text x="263.4" y="279.7" font-size="15" text-anchor="end" fill="#151213">10<tspan dx="0.3" dy="-4.8" font-size="8.85">2</tspan></text>
<text x="263" y="315.2" font-size="15" text-anchor="end" fill="#151213">10</text>
<text x="262.8" y="351.2" font-size="15" text-anchor="end" fill="#151213">1</text>
<text x="236.4" y="290.4" font-size="15" text-anchor="middle" fill="#151213" transform="rotate(-90 236.4 290.4)">Counts</text>
<text x="335.8" y="371.8" font-size="15" text-anchor="middle" fill="#151213">1.0</text>
<text x="411.5" y="371.8" font-size="15" text-anchor="middle" fill="#151213">1.5</text>
<text x="336.2" y="384.6" font-size="15" fill="#151213"><tspan font-style="italic">I</tspan><tspan dx="-0.6" dy="4.7" font-size="8.2" font-style="italic">sw</tspan><tspan dx="0.6" dy="-4.7">(nA)</tspan></text>
<text x="342.4" y="251.7" font-size="15" font-style="italic" fill="#151213">dI</text>
<line x1="342.1" y1="253.3" x2="355" y2="253.3" stroke="#3a2a2a" stroke-width="1"/>
<text x="342.4" y="265.9" font-size="15" font-style="italic" fill="#151213">dt</text>
<text x="361.6" y="255.5" font-size="15" text-anchor="start" fill="#151213">= 300nA/s</text>
<text x="298.2" y="311.8" font-size="15" text-anchor="start" fill="#151213">100mK</text>
<text x="300.6" y="326.4" font-size="15" text-anchor="start" fill="#151213">80mK</text>
<text x="300.6" y="340.7" font-size="15" text-anchor="start" fill="#151213">70mK</text>
<circle cx="293.9" cy="306.4" r="0.95" fill="#ff0000"/>
<circle cx="293.9" cy="321.3" r="0.95" fill="#0000ff"/>
<circle cx="293.9" cy="335.5" r="0.95" fill="#000000"/>
<rect x="265.8" y="37.4" width="151.1" height="14.9" fill="#cccccc"/>
<rect x="265.8" y="78.4" width="151.1" height="8.2" fill="#cccccc"/>
<clipPath id="cp31"><rect x="265.8" y="31.9" width="81.7" height="60"/></clipPath>
<g clip-path="url(#cp31)">
<path d="M265.8 77.05 L266.3 77.63 L266.8 78.17 L267.3 78.69 L267.8 79.16 L268.3 79.61 L268.8 80.02 L269.3 80.41 L269.8 80.76 L270.3 81.09 L270.8 81.38 L271.3 81.65 L271.8 81.9 L272.3 82.11 L272.8 82.31 L273.3 82.48 L273.8 82.63 L274.3 82.76 L274.8 82.87 L275.3 82.96 L275.8 83.03 L276.3 83.09 L276.8 83.13 L277.3 83.16 L277.8 83.18 L278.3 83.2 L278.8 83.2 L279.3 83.2 L279.8 83.2 L280.3 83.19 L280.8 83.17 L281.3 83.15 L281.8 83.11 L282.3 83.06 L282.8 82.99 L283.3 82.9 L283.8 82.8 L284.3 82.68 L284.8 82.54 L285.3 82.38 L285.8 82.19 L286.3 81.99 L286.8 81.75 L287.3 81.49 L287.8 81.21 L288.3 80.9 L288.8 80.55 L289.3 80.18 L289.8 79.78 L290.3 79.35 L290.8 78.88 L291.3 78.38 L291.8 77.85 L292.3 77.28 L292.8 76.68 L293.3 76.04 L293.8 75.36 L294.3 74.65 L294.8 73.9 L295.3 73.1 L295.8 72.27 L296.3 71.4 L296.8 70.48 L297.3 69.52 L297.8 68.52 L298.3 67.47 L298.8 66.39 L299.3 65.25 L299.8 64.07 L300.3 62.84 L300.8 61.57 L301.3 60.24 L301.8 58.87 L302.3 57.45 L302.8 55.98 L303.3 54.46 L303.8 52.88 L304.3 51.26 L304.8 49.58 L305.3 47.85 L305.8 46.07 L306.3 44.97 L306.8 46.79 L307.3 48.55 L307.8 50.26 L308.3 51.92 L308.8 53.52 L309.3 55.07 L309.8 56.57 L310.3 58.02 L310.8 59.43 L311.3 60.78 L311.8 62.08 L312.3 63.34 L312.8 64.55 L313.3 65.71 L313.8 66.83 L314.3 67.9 L314.8 68.93 L315.3 69.91 L315.8 70.85 L316.3 71.75 L316.8 72.61 L317.3 73.42 L317.8 74.2 L318.3 74.94 L318.8 75.64 L319.3 76.3 L319.8 76.92 L320.3 77.51 L320.8 78.07 L321.3 78.59 L321.8 79.07 L322.3 79.52 L322.8 79.94 L323.3 80.33 L323.8 80.69 L324.3 81.02 L324.8 81.33 L325.3 81.6 L325.8 81.85 L326.3 82.07 L326.8 82.27 L327.3 82.45 L327.8 82.6 L328.3 82.73 L328.8 82.85 L329.3 82.94 L329.8 83.02 L330.3 83.08 L330.8 83.13 L331.3 83.16 L331.8 83.18 L332.3 83.19 L332.8 83.2 L333.3 83.2 L333.8 83.2 L334.3 83.19 L334.8 83.18 L335.3 83.15 L335.8 83.12 L336.3 83.07 L336.8 83 L337.3 82.92 L337.8 82.83 L338.3 82.71 L338.8 82.57 L339.3 82.41 L339.8 82.23 L340.3 82.03 L340.8 81.8 L341.3 81.55 L341.8 81.27 L342.3 80.96 L342.8 80.62 L343.3 80.26 L343.8 79.86 L344.3 79.44 L344.8 78.98 L345.3 78.48 L345.8 77.96 L346.3 77.4 L346.8 76.8 L347.3 76.17" stroke="#0458b4" fill="none" stroke-width="1.9" stroke-linejoin="round"/>
<path d="M265.8 76.3 L266.3 75.68 L266.8 75.02 L267.3 74.33 L267.8 73.59 L268.3 72.82 L268.8 72.01 L269.3 71.15 L269.8 70.26 L270.3 69.33 L270.8 68.35 L271.3 67.33 L271.8 66.26 L272.3 65.16 L272.8 64 L273.3 62.8 L273.8 61.56 L274.3 60.26 L274.8 58.92 L275.3 57.53 L275.8 56.1 L276.3 54.61 L276.8 53.07 L277.3 51.48 L277.8 49.84 L278.3 48.15 L278.8 46.4 L279.3 44.6 L279.8 46.4 L280.3 48.15 L280.8 49.84 L281.3 51.48 L281.8 53.07 L282.3 54.61 L282.8 56.1 L283.3 57.53 L283.8 58.92 L284.3 60.26 L284.8 61.56 L285.3 62.8 L285.8 64 L286.3 65.16 L286.8 66.26 L287.3 67.33 L287.8 68.35 L288.3 69.33 L288.8 70.26 L289.3 71.15 L289.8 72.01 L290.3 72.82 L290.8 73.59 L291.3 74.33 L291.8 75.02 L292.3 75.68 L292.8 76.3 L293.3 76.89 L293.8 77.44 L294.3 77.96 L294.8 78.44 L295.3 78.89 L295.8 79.31 L296.3 79.7 L296.8 80.06 L297.3 80.39 L297.8 80.7 L298.3 80.97 L298.8 81.22 L299.3 81.45 L299.8 81.65 L300.3 81.83 L300.8 81.98 L301.3 82.12 L301.8 82.23 L302.3 82.33 L302.8 82.41 L303.3 82.47 L303.8 82.52 L304.3 82.55 L304.8 82.58 L305.3 82.59 L305.8 82.6 L306.3 82.6 L306.8 82.6 L307.3 82.59 L307.8 82.58 L308.3 82.56 L308.8 82.53 L309.3 82.48 L309.8 82.42 L310.3 82.34 L310.8 82.25 L311.3 82.14 L311.8 82.01 L312.3 81.86 L312.8 81.69 L313.3 81.49 L313.8 81.27 L314.3 81.03 L314.8 80.76 L315.3 80.46 L315.8 80.13 L316.3 79.78 L316.8 79.39 L317.3 78.98 L317.8 78.54 L318.3 78.06 L318.8 77.55 L319.3 77 L319.8 76.42 L320.3 75.81 L320.8 75.16 L321.3 74.47 L321.8 73.74 L322.3 72.98 L322.8 72.17 L323.3 71.33 L323.8 70.44 L324.3 69.52 L324.8 68.55 L325.3 67.54 L325.8 66.48 L326.3 65.38 L326.8 64.24 L327.3 63.05 L327.8 61.81 L328.3 60.53 L328.8 59.19 L329.3 57.82 L329.8 56.39 L330.3 54.91 L330.8 53.38 L331.3 51.8 L331.8 50.17 L332.3 48.49 L332.8 46.75 L333.3 44.96 L333.8 46.04 L334.3 47.8 L334.8 49.5 L335.3 51.16 L335.8 52.75 L336.3 54.3 L336.8 55.8 L337.3 57.25 L337.8 58.65 L338.3 60 L338.8 61.3 L339.3 62.56 L339.8 63.77 L340.3 64.93 L340.8 66.05 L341.3 67.12 L341.8 68.15 L342.3 69.13 L342.8 70.08 L343.3 70.98 L343.8 71.84 L344.3 72.66 L344.8 73.44 L345.3 74.18 L345.8 74.89 L346.3 75.55 L346.8 76.18 L347.3 76.77" stroke="#ed1c24" fill="none" stroke-width="1.9" stroke-linejoin="round"/>
</g>
<line x1="306.2" y1="31.9" x2="306.2" y2="91.9" stroke="#000" stroke-width="1.3" stroke-dasharray="3 1.7"/>
<rect x="265.8" y="31.9" width="81.7" height="60" fill="none" stroke="#231f20" stroke-width="1.3"/>
<line x1="279.3" y1="31.9" x2="279.3" y2="33.7" stroke="#231f20" stroke-width="1"/>
<line x1="279.3" y1="91.9" x2="279.3" y2="90.1" stroke="#231f20" stroke-width="1"/>
<line x1="306.2" y1="31.9" x2="306.2" y2="33.7" stroke="#231f20" stroke-width="1"/>
<line x1="306.2" y1="91.9" x2="306.2" y2="90.1" stroke="#231f20" stroke-width="1"/>
<line x1="333.4" y1="31.9" x2="333.4" y2="33.7" stroke="#231f20" stroke-width="1"/>
<line x1="333.4" y1="91.9" x2="333.4" y2="90.1" stroke="#231f20" stroke-width="1"/>
<line x1="265.8" y1="44.6" x2="267.6" y2="44.6" stroke="#231f20" stroke-width="1"/>
<line x1="347.5" y1="44.6" x2="345.7" y2="44.6" stroke="#231f20" stroke-width="1"/>
<line x1="265.8" y1="82.6" x2="267.6" y2="82.6" stroke="#231f20" stroke-width="1"/>
<line x1="347.5" y1="82.6" x2="345.7" y2="82.6" stroke="#231f20" stroke-width="1"/>
<line x1="331.5" y1="94.7" x2="347.5" y2="94.7" stroke="#555" stroke-width="1"/>
<rect x="265.8" y="147.5" width="151.1" height="8.5" fill="#cccccc"/>
<clipPath id="cp101"><rect x="265.8" y="101.1" width="81.7" height="59.3"/></clipPath>
<g clip-path="url(#cp101)">
<path d="M265.8 146.4 L266.3 146.98 L266.8 147.53 L267.3 148.05 L267.8 148.53 L268.3 148.98 L268.8 149.4 L269.3 149.79 L269.8 150.14 L270.3 150.47 L270.8 150.77 L271.3 151.04 L271.8 151.29 L272.3 151.51 L272.8 151.7 L273.3 151.87 L273.8 152.02 L274.3 152.15 L274.8 152.26 L275.3 152.36 L275.8 152.43 L276.3 152.49 L276.8 152.53 L277.3 152.56 L277.8 152.58 L278.3 152.6 L278.8 152.6 L279.3 152.6 L279.8 152.6 L280.3 152.59 L280.8 152.57 L281.3 152.55 L281.8 152.51 L282.3 152.45 L282.8 152.39 L283.3 152.3 L283.8 152.2 L284.3 152.08 L284.8 151.94 L285.3 151.77 L285.8 151.59 L286.3 151.38 L286.8 151.14 L287.3 150.88 L287.8 150.59 L288.3 150.28 L288.8 149.93 L289.3 149.56 L289.8 149.15 L290.3 148.72 L290.8 148.25 L291.3 147.74 L291.8 147.21 L292.3 146.64 L292.8 146.03 L293.3 145.38 L293.8 144.7 L294.3 143.98 L294.8 143.22 L295.3 142.42 L295.8 141.58 L296.3 140.7 L296.8 139.78 L297.3 138.82 L297.8 137.81 L298.3 136.75 L298.8 135.65 L299.3 134.51 L299.8 133.32 L300.3 132.08 L300.8 130.8 L301.3 129.46 L301.8 128.08 L302.3 126.65 L302.8 125.17 L303.3 123.63 L303.8 122.05 L304.3 120.41 L304.8 118.72 L305.3 116.98 L305.8 115.18 L306.3 114.07 L306.8 115.9 L307.3 117.68 L307.8 119.4 L308.3 121.07 L308.8 122.69 L309.3 124.25 L309.8 125.77 L310.3 127.23 L310.8 128.64 L311.3 130 L311.8 131.32 L312.3 132.58 L312.8 133.8 L313.3 134.97 L313.8 136.1 L314.3 137.18 L314.8 138.22 L315.3 139.21 L315.8 140.16 L316.3 141.06 L316.8 141.93 L317.3 142.75 L317.8 143.53 L318.3 144.28 L318.8 144.98 L319.3 145.65 L319.8 146.28 L320.3 146.87 L320.8 147.43 L321.3 147.95 L321.8 148.44 L322.3 148.89 L322.8 149.32 L323.3 149.71 L323.8 150.07 L324.3 150.41 L324.8 150.71 L325.3 150.99 L325.8 151.24 L326.3 151.46 L326.8 151.66 L327.3 151.84 L327.8 152 L328.3 152.13 L328.8 152.24 L329.3 152.34 L329.8 152.42 L330.3 152.48 L330.8 152.52 L331.3 152.56 L331.8 152.58 L332.3 152.59 L332.8 152.6 L333.3 152.6 L333.8 152.6 L334.3 152.59 L334.8 152.58 L335.3 152.55 L335.8 152.52 L336.3 152.47 L336.8 152.4 L337.3 152.32 L337.8 152.22 L338.3 152.1 L338.8 151.97 L339.3 151.81 L339.8 151.63 L340.3 151.42 L340.8 151.19 L341.3 150.94 L341.8 150.65 L342.3 150.34 L342.8 150 L343.3 149.64 L343.8 149.24 L344.3 148.81 L344.8 148.34 L345.3 147.85 L345.8 147.32 L346.3 146.75 L346.8 146.15 L347.3 145.52" stroke="#0458b4" fill="none" stroke-width="1.9" stroke-linejoin="round"/>
<path d="M265.8 145.65 L266.3 145.03 L266.8 144.36 L267.3 143.66 L267.8 142.92 L268.3 142.14 L268.8 141.32 L269.3 140.46 L269.8 139.56 L270.3 138.62 L270.8 137.64 L271.3 136.61 L271.8 135.54 L272.3 134.42 L272.8 133.26 L273.3 132.05 L273.8 130.79 L274.3 129.49 L274.8 128.14 L275.3 126.74 L275.8 125.29 L276.3 123.79 L276.8 122.24 L277.3 120.63 L277.8 118.98 L278.3 117.27 L278.8 115.51 L279.3 113.7 L279.8 115.51 L280.3 117.27 L280.8 118.98 L281.3 120.63 L281.8 122.24 L282.3 123.79 L282.8 125.29 L283.3 126.74 L283.8 128.14 L284.3 129.49 L284.8 130.79 L285.3 132.05 L285.8 133.26 L286.3 134.42 L286.8 135.54 L287.3 136.61 L287.8 137.64 L288.3 138.62 L288.8 139.56 L289.3 140.46 L289.8 141.32 L290.3 142.14 L290.8 142.92 L291.3 143.66 L291.8 144.36 L292.3 145.03 L292.8 145.65 L293.3 146.24 L293.8 146.8 L294.3 147.32 L294.8 147.81 L295.3 148.26 L295.8 148.69 L296.3 149.08 L296.8 149.44 L297.3 149.78 L297.8 150.08 L298.3 150.36 L298.8 150.61 L299.3 150.84 L299.8 151.04 L300.3 151.22 L300.8 151.38 L301.3 151.51 L301.8 151.63 L302.3 151.73 L302.8 151.8 L303.3 151.87 L303.8 151.92 L304.3 151.95 L304.8 151.98 L305.3 151.99 L305.8 152 L306.3 152 L306.8 152 L307.3 151.99 L307.8 151.98 L308.3 151.96 L308.8 151.93 L309.3 151.88 L309.8 151.82 L310.3 151.74 L310.8 151.65 L311.3 151.54 L311.8 151.41 L312.3 151.25 L312.8 151.08 L313.3 150.88 L313.8 150.66 L314.3 150.41 L314.8 150.14 L315.3 149.84 L315.8 149.51 L316.3 149.16 L316.8 148.77 L317.3 148.35 L317.8 147.9 L318.3 147.42 L318.8 146.91 L319.3 146.36 L319.8 145.77 L320.3 145.15 L320.8 144.5 L321.3 143.8 L321.8 143.07 L322.3 142.3 L322.8 141.49 L323.3 140.64 L323.8 139.75 L324.3 138.81 L324.8 137.84 L325.3 136.82 L325.8 135.75 L326.3 134.65 L326.8 133.49 L327.3 132.29 L327.8 131.05 L328.3 129.75 L328.8 128.41 L329.3 127.02 L329.8 125.58 L330.3 124.09 L330.8 122.55 L331.3 120.96 L331.8 119.31 L332.3 117.62 L332.8 115.87 L333.3 114.07 L333.8 115.16 L334.3 116.93 L334.8 118.64 L335.3 120.31 L335.8 121.92 L336.3 123.48 L336.8 124.99 L337.3 126.45 L337.8 127.86 L338.3 129.22 L338.8 130.53 L339.3 131.8 L339.8 133.02 L340.3 134.19 L340.8 135.32 L341.3 136.4 L341.8 137.43 L342.3 138.43 L342.8 139.38 L343.3 140.29 L343.8 141.15 L344.3 141.98 L344.8 142.77 L345.3 143.52 L345.8 144.22 L346.3 144.9 L346.8 145.53 L347.3 146.13" stroke="#ed1c24" fill="none" stroke-width="1.9" stroke-linejoin="round"/>
</g>
<line x1="306.2" y1="101.1" x2="306.2" y2="160.4" stroke="#000" stroke-width="1.3" stroke-dasharray="3 1.7"/>
<rect x="265.8" y="101.1" width="81.7" height="59.3" fill="none" stroke="#231f20" stroke-width="1.3"/>
<line x1="279.3" y1="101.1" x2="279.3" y2="102.9" stroke="#231f20" stroke-width="1"/>
<line x1="279.3" y1="160.4" x2="279.3" y2="158.6" stroke="#231f20" stroke-width="1"/>
<line x1="306.2" y1="101.1" x2="306.2" y2="102.9" stroke="#231f20" stroke-width="1"/>
<line x1="306.2" y1="160.4" x2="306.2" y2="158.6" stroke="#231f20" stroke-width="1"/>
<line x1="333.4" y1="101.1" x2="333.4" y2="102.9" stroke="#231f20" stroke-width="1"/>
<line x1="333.4" y1="160.4" x2="333.4" y2="158.6" stroke="#231f20" stroke-width="1"/>
<line x1="265.8" y1="113.7" x2="267.6" y2="113.7" stroke="#231f20" stroke-width="1"/>
<line x1="347.5" y1="113.7" x2="345.7" y2="113.7" stroke="#231f20" stroke-width="1"/>
<line x1="265.8" y1="152" x2="267.6" y2="152" stroke="#231f20" stroke-width="1"/>
<line x1="347.5" y1="152" x2="345.7" y2="152" stroke="#231f20" stroke-width="1"/>
<line x1="331.5" y1="163.2" x2="347.5" y2="163.2" stroke="#555" stroke-width="1"/>
<circle cx="306.2" cy="44.6" r="2.9" fill="#0b5cb0"/>
<circle cx="306.2" cy="82.4" r="2.7" fill="#c4161c"/>
<circle cx="306.2" cy="113.4" r="2.9" fill="#0b5cb0"/>
<line x1="306.2" y1="117.2" x2="306.2" y2="147" stroke="#ffffff" stroke-width="2.6"/>
<line x1="306.2" y1="116.5" x2="306.2" y2="142" stroke="#58bd58" stroke-width="1.4"/>
<path d="M304.0 140.2 L306.2 146.4 L308.4 140.2 Z" stroke="none" fill="#58bd58" stroke-width="1.2"/>
<circle cx="306.2" cy="152.0" r="2.4" fill="#fff" stroke="#c4161c" stroke-width="1.1"/>
<text x="287.6" y="130.8" font-size="13.4" fill="#151213">τ<tspan dx="0.3" dy="3.8" font-size="8.2">p</tspan></text>
<path d="M347.5 38.2 C353 39.0 361 42.0 366.8 44.7 C361 47.4 353 50.4 347.5 51.2 Z" stroke="none" fill="#0458b4" stroke-width="1.2"/>
<path d="M347.5 78.4 C353 79.9 367 81.6 387.6 82.5 C367 83.5 353 85.2 347.5 86.6 Z" stroke="none" fill="#ff0000" stroke-width="1.2"/>
<path d="M347.5 114.5 C349.2 130 355 144.5 367.5 149.4 L347.5 149.4 Z" stroke="none" fill="#42b74a" stroke-width="1.2"/>
<path d="M347.5 147.2 C355 148.6 368 150.6 387.4 151.9 C368 153.3 355 155.2 347.5 156.6 Z" stroke="none" fill="#ff0000" stroke-width="1.2"/>
<line x1="377.3" y1="34.5" x2="348.3" y2="93.4" stroke="#555" stroke-width="1.3"/>
<line x1="413.8" y1="118.2" x2="348.3" y2="161.6" stroke="#555" stroke-width="1.3"/>
<line x1="347.5" y1="19" x2="347.5" y2="175.6" stroke="#231f20" stroke-width="1.5"/>
<line x1="347.5" y1="32.4" x2="428" y2="32.4" stroke="#231f20" stroke-width="1.5"/>
<line x1="347.5" y1="160.8" x2="428" y2="160.8" stroke="#231f20" stroke-width="1.5"/>
<path d="M442.9 32.4 Q433.5 30.5 424.0 26.6 L428.3 32.4 L424.0 38.2 Q433.5 34.3 442.9 32.4 Z" stroke="none" fill="#231f20" stroke-width="1.2"/>
<path d="M442.9 160.8 Q433.5 158.9 424.0 155 L428.3 160.8 L424.0 166.6 Q433.5 162.7 442.9 160.8 Z" stroke="none" fill="#231f20" stroke-width="1.2"/>
<text x="235" y="20.9" font-size="14.5" text-anchor="start" fill="#151213" font-weight="bold">b</text>
<text x="362" y="26.8" font-size="15" text-anchor="start" fill="#151213">Counts</text>
<text x="375" y="56.7" font-size="15" text-anchor="start" fill="#151213">fast</text>
<text x="352.4" y="111.8" font-size="15" text-anchor="start" fill="#151213">slow</text>
<text x="379.6" y="175.8" font-size="15" text-anchor="start" fill="#151213">Time</text>
<text x="385.6" y="72.8" font-size="15" fill="#151213"><tspan font-style="italic">I</tspan><tspan dx="-0.4" dy="5.2" font-size="8.8" font-style="italic">bias</tspan><tspan dx="0.2" dy="-5.2">(t)</tspan></text>
<text x="365.6" y="125.8" font-size="15" fill="#151213"><tspan font-style="italic">I</tspan><tspan dx="-0.4" dy="5.2" font-size="8.8" font-style="italic">bias</tspan><tspan dx="0.2" dy="-5.2">(t)</tspan></text>
<circle cx="518.8" cy="44.7" r="4.2" fill="#fd8008"/>
<circle cx="520.9" cy="54.4" r="4.2" fill="#fd8008"/>
<circle cx="526" cy="65.9" r="4.2" fill="#fd8008"/>
<circle cx="531.6" cy="109.7" r="4.2" fill="#fd8008"/>
<circle cx="538.5" cy="135.4" r="4.2" fill="#fd8008"/>
<circle cx="546.9" cy="153.8" r="4.2" fill="#fd8008"/>
<circle cx="564" cy="193" r="4.2" fill="#fd8008"/>
<circle cx="580.6" cy="219.3" r="4.2" fill="#fd8008"/>
<circle cx="597.2" cy="234.8" r="4.2" fill="#fd8008"/>
<circle cx="613.7" cy="253.1" r="4.2" fill="#fd8008"/>
<circle cx="630.3" cy="261.8" r="4.2" fill="#fd8008"/>
<circle cx="647.4" cy="272" r="4.2" fill="#fd8008"/>
<circle cx="664" cy="275.8" r="4.2" fill="#fd8008"/>
<circle cx="680.6" cy="283" r="4.2" fill="#fd8008"/>
<circle cx="697.3" cy="296" r="4.2" fill="#fd8008"/>
<circle cx="713.9" cy="298.3" r="4.2" fill="#fd8008"/>
<circle cx="722.3" cy="301.3" r="4.2" fill="#fd8008"/>
<circle cx="730.9" cy="305.5" r="4.2" fill="#fd8008"/>
<circle cx="747.3" cy="315.9" r="4.2" fill="#fd8008"/>
<circle cx="764.1" cy="325.2" r="4.2" fill="#fd8008"/>
<circle cx="781.1" cy="337.1" r="4.2" fill="#fd8008"/>
<path d="M521.9 31.9 C522.42 36.58 523.93 50.32 525 60 C526.07 69.68 526.68 80.33 528.3 90 C529.92 99.67 532.15 107.37 534.7 118 C537.25 128.63 541.3 145.13 543.6 153.8 C545.9 162.47 546.8 164.3 548.5 170 C550.2 175.7 552.13 183.08 553.8 188 C555.47 192.92 556.72 195.75 558.5 199.5 C560.28 203.25 562.3 206.92 564.5 210.5 C566.7 214.08 568.95 217.42 571.7 221 C574.45 224.58 577.6 228.53 581 232 C584.4 235.47 587.93 238.47 592.1 241.8 C596.27 245.13 601.25 248.87 606 252 C610.75 255.13 615.27 257.83 620.6 260.6 C625.93 263.37 632.03 266.15 638 268.6 C643.97 271.05 650.73 273.47 656.4 275.3 C662.07 277.13 666.9 278.32 672 279.6 C677.1 280.88 680.67 281.72 687 283 C693.33 284.28 701.03 285.65 710 287.3 C718.97 288.95 735.67 291.97 740.8 292.9" stroke="#fd8008" fill="none" stroke-width="1.7" stroke-dasharray="7.5 4.5"/>
<circle cx="518.6" cy="127.8" r="4.2" fill="#08c0fb"/>
<circle cx="521.1" cy="129.6" r="4.2" fill="#08c0fb"/>
<circle cx="525.2" cy="129.6" r="4.2" fill="#08c0fb"/>
<circle cx="531.6" cy="123.2" r="4.2" fill="#08c0fb"/>
<circle cx="538.5" cy="128.3" r="4.2" fill="#08c0fb"/>
<circle cx="547.4" cy="129.1" r="4.2" fill="#08c0fb"/>
<circle cx="564" cy="139.8" r="4.2" fill="#08c0fb"/>
<circle cx="580.6" cy="151.8" r="4.2" fill="#08c0fb"/>
<circle cx="597.7" cy="158.9" r="4.2" fill="#08c0fb"/>
<circle cx="614" cy="172.3" r="4.2" fill="#08c0fb"/>
<circle cx="630.6" cy="185.1" r="4.2" fill="#08c0fb"/>
<circle cx="647.2" cy="192" r="4.2" fill="#08c0fb"/>
<circle cx="663.8" cy="197.4" r="4.2" fill="#08c0fb"/>
<circle cx="680.9" cy="203.5" r="4.2" fill="#08c0fb"/>
<circle cx="697.5" cy="210.4" r="4.2" fill="#08c0fb"/>
<circle cx="713.9" cy="217.9" r="4.2" fill="#08c0fb"/>
<circle cx="730.9" cy="245.1" r="4.2" fill="#08c0fb"/>
<circle cx="747.3" cy="261.2" r="4.2" fill="#08c0fb"/>
<path d="M540.5 31.9 C541.83 37.58 545.73 54.65 548.5 66 C551.27 77.35 554.18 91.33 557.1 100 C560.02 108.67 563.15 112.43 566 118 C568.85 123.57 571.37 128.73 574.2 133.4 C577.03 138.07 580.02 142.25 583 146 C585.98 149.75 589.1 152.9 592.1 155.9 C595.1 158.9 598.02 161.45 601 164 C603.98 166.55 606.5 168.62 610 171.2 C613.5 173.78 618 177 622 179.5 C626 182 629.33 183.92 634 186.2 C638.67 188.48 644.67 191.07 650 193.2 C655.33 195.33 660.67 197.13 666 199 C671.33 200.87 676.67 202.63 682 204.4 C687.33 206.17 693 208 698 209.6 C703 211.2 707.85 212.73 712 214 C716.15 215.27 721.08 216.67 722.9 217.2" stroke="#08c0fb" fill="none" stroke-width="1.7" stroke-dasharray="7.5 4.5"/>
<path d="M703.39 199.33 L706.71 205.5 L710.04 211.47 L713.36 217.26 L716.68 222.88 L720.01 228.32 L723.33 233.61 L726.66 238.74 L729.98 243.73 L733.3 248.57 L736.63 253.29 L739.95 257.87 L743.28 262.33 L746.6 266.67 L749.92 270.89 L753.25 275.01 L756.57 279.02 L759.9 282.93 L763.22 286.74 L766.54 290.45 L769.87 294.08 L773.19 297.62 L776.52 301.07 L779.84 304.45 L783.16 307.74 L786.49 310.96 L789.81 314.11 L793.14 317.18 L796.46 320.19" stroke="#08c0fb" fill="none" stroke-width="1.7" stroke-dasharray="7.5 4.5"/>
<circle cx="520.6" cy="208.8" r="4.2" fill="#231f20"/>
<circle cx="531.6" cy="209.6" r="4.2" fill="#231f20"/>
<circle cx="546.9" cy="208.8" r="4.2" fill="#231f20"/>
<circle cx="564" cy="212.1" r="4.2" fill="#231f20"/>
<circle cx="580.6" cy="216" r="4.2" fill="#231f20"/>
<circle cx="597.2" cy="214.6" r="4.2" fill="#231f20"/>
<circle cx="630.3" cy="225" r="4.2" fill="#231f20"/>
<circle cx="664" cy="235.2" r="4.2" fill="#231f20"/>
<circle cx="697.3" cy="240.3" r="4.2" fill="#231f20"/>
<circle cx="730.9" cy="287.7" r="4.2" fill="#231f20"/>
<circle cx="747.3" cy="298.9" r="4.2" fill="#231f20"/>
<circle cx="764.1" cy="320.4" r="4.2" fill="#231f20"/>
<circle cx="797.5" cy="337.1" r="4.2" fill="#231f20"/>
<path d="M697.74 240.62 L701.06 245.91 L704.39 251.02 L707.71 255.98 L711.03 260.78 L714.36 265.44 L717.68 269.95 L721.01 274.33 L724.33 278.58 L727.65 282.71 L730.98 286.72 L734.3 290.62 L737.63 294.41 L740.95 298.1 L744.27 301.69 L747.6 305.18 L750.92 308.58 L754.25 311.89 L757.57 315.12 L760.89 318.27 L764.22 321.34 L767.54 324.33 L770.87 327.25 L774.19 330.1 L777.51 332.89 L780.84 335.6 L784.16 338.26 L787.49 340.85 L790.81 343.39 L794.13 345.86" stroke="#231f20" fill="none" stroke-width="1.7" stroke-dasharray="6.5 4.2"/>
<path d="M518.9 58.4 L520.6 63.05 L525.56 63.24 L521.66 66.3 L523.01 71.06 L518.9 68.3 L514.79 71.06 L516.14 66.3 L512.24 63.24 L517.2 63.05 Z" stroke="#111" fill="#fd8008" stroke-width="1.25"/>
<rect x="497.3" y="31.8" width="308.8" height="323.9" fill="none" stroke="#231f20" stroke-width="1.75"/>
<line x1="497.3" y1="352.35" x2="501.2" y2="352.35" stroke="#231f20" stroke-width="1.3"/>
<line x1="497.3" y1="349.38" x2="501.2" y2="349.38" stroke="#231f20" stroke-width="1.3"/>
<line x1="497.3" y1="346.8" x2="501.2" y2="346.8" stroke="#231f20" stroke-width="1.3"/>
<line x1="497.3" y1="344.53" x2="501.2" y2="344.53" stroke="#231f20" stroke-width="1.3"/>
<line x1="497.3" y1="342.5" x2="504.1" y2="342.5" stroke="#231f20" stroke-width="1.3"/>
<line x1="497.3" y1="329.13" x2="501.2" y2="329.13" stroke="#231f20" stroke-width="1.3"/>
<line x1="497.3" y1="321.32" x2="501.2" y2="321.32" stroke="#231f20" stroke-width="1.3"/>
<line x1="497.3" y1="315.77" x2="501.2" y2="315.77" stroke="#231f20" stroke-width="1.3"/>
<line x1="497.3" y1="311.47" x2="501.2" y2="311.47" stroke="#231f20" stroke-width="1.3"/>
<line x1="497.3" y1="307.95" x2="501.2" y2="307.95" stroke="#231f20" stroke-width="1.3"/>
<line x1="497.3" y1="304.98" x2="501.2" y2="304.98" stroke="#231f20" stroke-width="1.3"/>
<line x1="497.3" y1="302.4" x2="501.2" y2="302.4" stroke="#231f20" stroke-width="1.3"/>
<line x1="497.3" y1="300.13" x2="501.2" y2="300.13" stroke="#231f20" stroke-width="1.3"/>
<line x1="497.3" y1="298.1" x2="504.1" y2="298.1" stroke="#231f20" stroke-width="1.3"/>
<line x1="497.3" y1="284.73" x2="501.2" y2="284.73" stroke="#231f20" stroke-width="1.3"/>
<line x1="497.3" y1="276.92" x2="501.2" y2="276.92" stroke="#231f20" stroke-width="1.3"/>
<line x1="497.3" y1="271.37" x2="501.2" y2="271.37" stroke="#231f20" stroke-width="1.3"/>
<line x1="497.3" y1="267.07" x2="501.2" y2="267.07" stroke="#231f20" stroke-width="1.3"/>
<line x1="497.3" y1="263.55" x2="501.2" y2="263.55" stroke="#231f20" stroke-width="1.3"/>
<line x1="497.3" y1="260.58" x2="501.2" y2="260.58" stroke="#231f20" stroke-width="1.3"/>
<line x1="497.3" y1="258" x2="501.2" y2="258" stroke="#231f20" stroke-width="1.3"/>
<line x1="497.3" y1="255.73" x2="501.2" y2="255.73" stroke="#231f20" stroke-width="1.3"/>
<line x1="497.3" y1="253.7" x2="504.1" y2="253.7" stroke="#231f20" stroke-width="1.3"/>
<line x1="497.3" y1="240.33" x2="501.2" y2="240.33" stroke="#231f20" stroke-width="1.3"/>
<line x1="497.3" y1="232.52" x2="501.2" y2="232.52" stroke="#231f20" stroke-width="1.3"/>
<line x1="497.3" y1="226.97" x2="501.2" y2="226.97" stroke="#231f20" stroke-width="1.3"/>
<line x1="497.3" y1="222.67" x2="501.2" y2="222.67" stroke="#231f20" stroke-width="1.3"/>
<line x1="497.3" y1="219.15" x2="501.2" y2="219.15" stroke="#231f20" stroke-width="1.3"/>
<line x1="497.3" y1="216.18" x2="501.2" y2="216.18" stroke="#231f20" stroke-width="1.3"/>
<line x1="497.3" y1="213.6" x2="501.2" y2="213.6" stroke="#231f20" stroke-width="1.3"/>
<line x1="497.3" y1="211.33" x2="501.2" y2="211.33" stroke="#231f20" stroke-width="1.3"/>
<line x1="497.3" y1="209.3" x2="504.1" y2="209.3" stroke="#231f20" stroke-width="1.3"/>
<line x1="497.3" y1="195.93" x2="501.2" y2="195.93" stroke="#231f20" stroke-width="1.3"/>
<line x1="497.3" y1="188.12" x2="501.2" y2="188.12" stroke="#231f20" stroke-width="1.3"/>
<line x1="497.3" y1="182.57" x2="501.2" y2="182.57" stroke="#231f20" stroke-width="1.3"/>
<line x1="497.3" y1="178.27" x2="501.2" y2="178.27" stroke="#231f20" stroke-width="1.3"/>
<line x1="497.3" y1="174.75" x2="501.2" y2="174.75" stroke="#231f20" stroke-width="1.3"/>
<line x1="497.3" y1="171.78" x2="501.2" y2="171.78" stroke="#231f20" stroke-width="1.3"/>
<line x1="497.3" y1="169.2" x2="501.2" y2="169.2" stroke="#231f20" stroke-width="1.3"/>
<line x1="497.3" y1="166.93" x2="501.2" y2="166.93" stroke="#231f20" stroke-width="1.3"/>
<line x1="497.3" y1="164.9" x2="504.1" y2="164.9" stroke="#231f20" stroke-width="1.3"/>
<line x1="497.3" y1="151.53" x2="501.2" y2="151.53" stroke="#231f20" stroke-width="1.3"/>
<line x1="497.3" y1="143.72" x2="501.2" y2="143.72" stroke="#231f20" stroke-width="1.3"/>
<line x1="497.3" y1="138.17" x2="501.2" y2="138.17" stroke="#231f20" stroke-width="1.3"/>
<line x1="497.3" y1="133.87" x2="501.2" y2="133.87" stroke="#231f20" stroke-width="1.3"/>
<line x1="497.3" y1="130.35" x2="501.2" y2="130.35" stroke="#231f20" stroke-width="1.3"/>
<line x1="497.3" y1="127.38" x2="501.2" y2="127.38" stroke="#231f20" stroke-width="1.3"/>
<line x1="497.3" y1="124.8" x2="501.2" y2="124.8" stroke="#231f20" stroke-width="1.3"/>
<line x1="497.3" y1="122.53" x2="501.2" y2="122.53" stroke="#231f20" stroke-width="1.3"/>
<line x1="497.3" y1="120.5" x2="504.1" y2="120.5" stroke="#231f20" stroke-width="1.3"/>
<line x1="497.3" y1="107.13" x2="501.2" y2="107.13" stroke="#231f20" stroke-width="1.3"/>
<line x1="497.3" y1="99.32" x2="501.2" y2="99.32" stroke="#231f20" stroke-width="1.3"/>
<line x1="497.3" y1="93.77" x2="501.2" y2="93.77" stroke="#231f20" stroke-width="1.3"/>
<line x1="497.3" y1="89.47" x2="501.2" y2="89.47" stroke="#231f20" stroke-width="1.3"/>
<line x1="497.3" y1="85.95" x2="501.2" y2="85.95" stroke="#231f20" stroke-width="1.3"/>
<line x1="497.3" y1="82.98" x2="501.2" y2="82.98" stroke="#231f20" stroke-width="1.3"/>
<line x1="497.3" y1="80.4" x2="501.2" y2="80.4" stroke="#231f20" stroke-width="1.3"/>
<line x1="497.3" y1="78.13" x2="501.2" y2="78.13" stroke="#231f20" stroke-width="1.3"/>
<line x1="497.3" y1="76.1" x2="504.1" y2="76.1" stroke="#231f20" stroke-width="1.3"/>
<line x1="497.3" y1="62.73" x2="501.2" y2="62.73" stroke="#231f20" stroke-width="1.3"/>
<line x1="497.3" y1="54.92" x2="501.2" y2="54.92" stroke="#231f20" stroke-width="1.3"/>
<line x1="497.3" y1="49.37" x2="501.2" y2="49.37" stroke="#231f20" stroke-width="1.3"/>
<line x1="497.3" y1="45.07" x2="501.2" y2="45.07" stroke="#231f20" stroke-width="1.3"/>
<line x1="497.3" y1="41.55" x2="501.2" y2="41.55" stroke="#231f20" stroke-width="1.3"/>
<line x1="497.3" y1="38.58" x2="501.2" y2="38.58" stroke="#231f20" stroke-width="1.3"/>
<line x1="497.3" y1="36" x2="501.2" y2="36" stroke="#231f20" stroke-width="1.3"/>
<line x1="497.3" y1="33.73" x2="501.2" y2="33.73" stroke="#231f20" stroke-width="1.3"/>
<line x1="806.1" y1="352.35" x2="802.2" y2="352.35" stroke="#231f20" stroke-width="1.3"/>
<line x1="806.1" y1="349.38" x2="802.2" y2="349.38" stroke="#231f20" stroke-width="1.3"/>
<line x1="806.1" y1="346.8" x2="802.2" y2="346.8" stroke="#231f20" stroke-width="1.3"/>
<line x1="806.1" y1="344.53" x2="802.2" y2="344.53" stroke="#231f20" stroke-width="1.3"/>
<line x1="806.1" y1="342.5" x2="799.3" y2="342.5" stroke="#231f20" stroke-width="1.3"/>
<line x1="806.1" y1="329.13" x2="802.2" y2="329.13" stroke="#231f20" stroke-width="1.3"/>
<line x1="806.1" y1="321.32" x2="802.2" y2="321.32" stroke="#231f20" stroke-width="1.3"/>
<line x1="806.1" y1="315.77" x2="802.2" y2="315.77" stroke="#231f20" stroke-width="1.3"/>
<line x1="806.1" y1="311.47" x2="802.2" y2="311.47" stroke="#231f20" stroke-width="1.3"/>
<line x1="806.1" y1="307.95" x2="802.2" y2="307.95" stroke="#231f20" stroke-width="1.3"/>
<line x1="806.1" y1="304.98" x2="802.2" y2="304.98" stroke="#231f20" stroke-width="1.3"/>
<line x1="806.1" y1="302.4" x2="802.2" y2="302.4" stroke="#231f20" stroke-width="1.3"/>
<line x1="806.1" y1="300.13" x2="802.2" y2="300.13" stroke="#231f20" stroke-width="1.3"/>
<line x1="806.1" y1="298.1" x2="799.3" y2="298.1" stroke="#231f20" stroke-width="1.3"/>
<line x1="806.1" y1="284.73" x2="802.2" y2="284.73" stroke="#231f20" stroke-width="1.3"/>
<line x1="806.1" y1="276.92" x2="802.2" y2="276.92" stroke="#231f20" stroke-width="1.3"/>
<line x1="806.1" y1="271.37" x2="802.2" y2="271.37" stroke="#231f20" stroke-width="1.3"/>
<line x1="806.1" y1="267.07" x2="802.2" y2="267.07" stroke="#231f20" stroke-width="1.3"/>
<line x1="806.1" y1="263.55" x2="802.2" y2="263.55" stroke="#231f20" stroke-width="1.3"/>
<line x1="806.1" y1="260.58" x2="802.2" y2="260.58" stroke="#231f20" stroke-width="1.3"/>
<line x1="806.1" y1="258" x2="802.2" y2="258" stroke="#231f20" stroke-width="1.3"/>
<line x1="806.1" y1="255.73" x2="802.2" y2="255.73" stroke="#231f20" stroke-width="1.3"/>
<line x1="806.1" y1="253.7" x2="799.3" y2="253.7" stroke="#231f20" stroke-width="1.3"/>
<line x1="806.1" y1="240.33" x2="802.2" y2="240.33" stroke="#231f20" stroke-width="1.3"/>
<line x1="806.1" y1="232.52" x2="802.2" y2="232.52" stroke="#231f20" stroke-width="1.3"/>
<line x1="806.1" y1="226.97" x2="802.2" y2="226.97" stroke="#231f20" stroke-width="1.3"/>
<line x1="806.1" y1="222.67" x2="802.2" y2="222.67" stroke="#231f20" stroke-width="1.3"/>
<line x1="806.1" y1="219.15" x2="802.2" y2="219.15" stroke="#231f20" stroke-width="1.3"/>
<line x1="806.1" y1="216.18" x2="802.2" y2="216.18" stroke="#231f20" stroke-width="1.3"/>
<line x1="806.1" y1="213.6" x2="802.2" y2="213.6" stroke="#231f20" stroke-width="1.3"/>
<line x1="806.1" y1="211.33" x2="802.2" y2="211.33" stroke="#231f20" stroke-width="1.3"/>
<line x1="806.1" y1="209.3" x2="799.3" y2="209.3" stroke="#231f20" stroke-width="1.3"/>
<line x1="806.1" y1="195.93" x2="802.2" y2="195.93" stroke="#231f20" stroke-width="1.3"/>
<line x1="806.1" y1="188.12" x2="802.2" y2="188.12" stroke="#231f20" stroke-width="1.3"/>
<line x1="806.1" y1="182.57" x2="802.2" y2="182.57" stroke="#231f20" stroke-width="1.3"/>
<line x1="806.1" y1="178.27" x2="802.2" y2="178.27" stroke="#231f20" stroke-width="1.3"/>
<line x1="806.1" y1="174.75" x2="802.2" y2="174.75" stroke="#231f20" stroke-width="1.3"/>
<line x1="806.1" y1="171.78" x2="802.2" y2="171.78" stroke="#231f20" stroke-width="1.3"/>
<line x1="806.1" y1="169.2" x2="802.2" y2="169.2" stroke="#231f20" stroke-width="1.3"/>
<line x1="806.1" y1="166.93" x2="802.2" y2="166.93" stroke="#231f20" stroke-width="1.3"/>
<line x1="806.1" y1="164.9" x2="799.3" y2="164.9" stroke="#231f20" stroke-width="1.3"/>
<line x1="806.1" y1="151.53" x2="802.2" y2="151.53" stroke="#231f20" stroke-width="1.3"/>
<line x1="806.1" y1="143.72" x2="802.2" y2="143.72" stroke="#231f20" stroke-width="1.3"/>
<line x1="806.1" y1="138.17" x2="802.2" y2="138.17" stroke="#231f20" stroke-width="1.3"/>
<line x1="806.1" y1="133.87" x2="802.2" y2="133.87" stroke="#231f20" stroke-width="1.3"/>
<line x1="806.1" y1="130.35" x2="802.2" y2="130.35" stroke="#231f20" stroke-width="1.3"/>
<line x1="806.1" y1="127.38" x2="802.2" y2="127.38" stroke="#231f20" stroke-width="1.3"/>
<line x1="806.1" y1="124.8" x2="802.2" y2="124.8" stroke="#231f20" stroke-width="1.3"/>
<line x1="806.1" y1="122.53" x2="802.2" y2="122.53" stroke="#231f20" stroke-width="1.3"/>
<line x1="806.1" y1="120.5" x2="799.3" y2="120.5" stroke="#231f20" stroke-width="1.3"/>
<line x1="806.1" y1="107.13" x2="802.2" y2="107.13" stroke="#231f20" stroke-width="1.3"/>
<line x1="806.1" y1="99.32" x2="802.2" y2="99.32" stroke="#231f20" stroke-width="1.3"/>
<line x1="806.1" y1="93.77" x2="802.2" y2="93.77" stroke="#231f20" stroke-width="1.3"/>
<line x1="806.1" y1="89.47" x2="802.2" y2="89.47" stroke="#231f20" stroke-width="1.3"/>
<line x1="806.1" y1="85.95" x2="802.2" y2="85.95" stroke="#231f20" stroke-width="1.3"/>
<line x1="806.1" y1="82.98" x2="802.2" y2="82.98" stroke="#231f20" stroke-width="1.3"/>
<line x1="806.1" y1="80.4" x2="802.2" y2="80.4" stroke="#231f20" stroke-width="1.3"/>
<line x1="806.1" y1="78.13" x2="802.2" y2="78.13" stroke="#231f20" stroke-width="1.3"/>
<line x1="806.1" y1="76.1" x2="799.3" y2="76.1" stroke="#231f20" stroke-width="1.3"/>
<line x1="806.1" y1="62.73" x2="802.2" y2="62.73" stroke="#231f20" stroke-width="1.3"/>
<line x1="806.1" y1="54.92" x2="802.2" y2="54.92" stroke="#231f20" stroke-width="1.3"/>
<line x1="806.1" y1="49.37" x2="802.2" y2="49.37" stroke="#231f20" stroke-width="1.3"/>
<line x1="806.1" y1="45.07" x2="802.2" y2="45.07" stroke="#231f20" stroke-width="1.3"/>
<line x1="806.1" y1="41.55" x2="802.2" y2="41.55" stroke="#231f20" stroke-width="1.3"/>
<line x1="806.1" y1="38.58" x2="802.2" y2="38.58" stroke="#231f20" stroke-width="1.3"/>
<line x1="806.1" y1="36" x2="802.2" y2="36" stroke="#231f20" stroke-width="1.3"/>
<line x1="806.1" y1="33.73" x2="802.2" y2="33.73" stroke="#231f20" stroke-width="1.3"/>
<line x1="518.08" y1="31.8" x2="518.08" y2="35.2" stroke="#231f20" stroke-width="1.3"/>
<line x1="538.85" y1="31.8" x2="538.85" y2="38.4" stroke="#231f20" stroke-width="1.3"/>
<line x1="559.62" y1="31.8" x2="559.62" y2="35.2" stroke="#231f20" stroke-width="1.3"/>
<line x1="580.4" y1="31.8" x2="580.4" y2="38.4" stroke="#231f20" stroke-width="1.3"/>
<line x1="601.17" y1="31.8" x2="601.17" y2="35.2" stroke="#231f20" stroke-width="1.3"/>
<line x1="621.95" y1="31.8" x2="621.95" y2="38.4" stroke="#231f20" stroke-width="1.3"/>
<line x1="642.73" y1="31.8" x2="642.73" y2="35.2" stroke="#231f20" stroke-width="1.3"/>
<line x1="663.5" y1="31.8" x2="663.5" y2="38.4" stroke="#231f20" stroke-width="1.3"/>
<line x1="684.27" y1="31.8" x2="684.27" y2="35.2" stroke="#231f20" stroke-width="1.3"/>
<line x1="705.05" y1="31.8" x2="705.05" y2="38.4" stroke="#231f20" stroke-width="1.3"/>
<line x1="725.83" y1="31.8" x2="725.83" y2="35.2" stroke="#231f20" stroke-width="1.3"/>
<line x1="746.6" y1="31.8" x2="746.6" y2="38.4" stroke="#231f20" stroke-width="1.3"/>
<line x1="767.38" y1="31.8" x2="767.38" y2="35.2" stroke="#231f20" stroke-width="1.3"/>
<line x1="788.15" y1="31.8" x2="788.15" y2="38.4" stroke="#231f20" stroke-width="1.3"/>
<line x1="538.85" y1="355.7" x2="538.85" y2="352.1" stroke="#231f20" stroke-width="1.3"/>
<line x1="580.4" y1="355.7" x2="580.4" y2="349.3" stroke="#231f20" stroke-width="1.3"/>
<line x1="621.95" y1="355.7" x2="621.95" y2="352.1" stroke="#231f20" stroke-width="1.3"/>
<line x1="663.5" y1="355.7" x2="663.5" y2="349.3" stroke="#231f20" stroke-width="1.3"/>
<line x1="705.05" y1="355.7" x2="705.05" y2="352.1" stroke="#231f20" stroke-width="1.3"/>
<line x1="746.6" y1="355.7" x2="746.6" y2="349.3" stroke="#231f20" stroke-width="1.3"/>
<line x1="788.15" y1="355.7" x2="788.15" y2="352.1" stroke="#231f20" stroke-width="1.3"/>
<text x="474" y="21" font-size="14.5" text-anchor="start" fill="#151213" font-weight="bold">e</text>
<text x="494.2" y="39.5" font-size="15" text-anchor="end" fill="#151213">10<tspan dx="0.3" dy="-5.4" font-size="8.85">2</tspan></text>
<text x="493.5" y="83.9" font-size="15" text-anchor="end" fill="#151213">10</text>
<text x="493.5" y="128" font-size="15" text-anchor="end" fill="#151213">1</text>
<text x="494.2" y="173.1" font-size="15" text-anchor="end" fill="#151213">10<tspan dx="0.3" dy="-5.4" font-size="8.85">-1</tspan></text>
<text x="494.2" y="217.5" font-size="15" text-anchor="end" fill="#151213">10<tspan dx="0.3" dy="-5.4" font-size="8.85">-2</tspan></text>
<text x="494.2" y="261" font-size="15" text-anchor="end" fill="#151213">10<tspan dx="0.3" dy="-5.4" font-size="8.85">-3</tspan></text>
<text x="494.2" y="304.5" font-size="15" text-anchor="end" fill="#151213">10<tspan dx="0.3" dy="-5.4" font-size="8.85">-4</tspan></text>
<text x="494.2" y="348.4" font-size="15" text-anchor="end" fill="#151213">10<tspan dx="0.3" dy="-5.4" font-size="8.85">-5</tspan></text>
<text x="497.9" y="371.1" font-size="15" text-anchor="middle" fill="#151213">0</text>
<text x="581" y="371.1" font-size="15" text-anchor="middle" fill="#151213">50</text>
<text x="664.1" y="371.1" font-size="15" text-anchor="middle" fill="#151213">100</text>
<text x="747.2" y="371.1" font-size="15" text-anchor="middle" fill="#151213">150</text>
<text x="633" y="386.6" font-size="15" fill="#151213"><tspan font-style="italic">T</tspan> (mK)</text>
<text x="462.6" y="182.5" font-size="15" fill="#151213" text-anchor="middle" transform="rotate(-90 462.6 182.5)">Parity lifetime, <tspan font-family="'Liberation Serif', serif" font-size="15">τ</tspan><tspan dy="3.2" font-size="8.5" font-style="italic">p</tspan><tspan dy="-3.2"> (s)</tspan></text>
<text x="587" y="145.7" font-size="15" text-anchor="start" fill="#08c0fb">S1</text>
<text x="645.8" y="183.8" font-size="15" text-anchor="start" fill="#08c0fb">24µeV</text>
<text x="733" y="236.7" font-size="15" text-anchor="start" fill="#08c0fb">210µeV</text>
<text x="543.4" y="254.2" font-size="15" text-anchor="start" fill="#fd8008">18µeV</text>
<text x="620" y="287.3" font-size="15" text-anchor="start" fill="#fd8008">S2</text>
<text x="621.8" y="217.9" font-size="15" text-anchor="start" fill="#151213">N</text>
<text x="716" y="343.1" font-size="15" text-anchor="start" fill="#151213">170µeV</text>
<path d="M652 138.4 C668 137.9 690 131.6 708.5 120.3 L708.5 138.4 Z" stroke="none" fill="#c8c8c8" stroke-width="1.2"/>
<path d="M625.5 121.9 C627.75 121.02 634.75 118.52 639 116.6 C643.25 114.68 647.4 113.03 651 110.4 C654.6 107.77 657.62 104.42 660.6 100.8 C663.58 97.18 666.6 92.4 668.9 88.7 C671.2 85 672.7 82 674.4 78.6 C676.1 75.2 677.53 71.98 679.1 68.3 C680.67 64.62 682.3 60.55 683.8 56.5 C685.3 52.45 687.38 46.08 688.1 44" stroke="#000" fill="none" stroke-width="1.6"/>
<path d="M652 138.4 C668 137.9 690 131.6 708.5 120.3" stroke="#000" fill="none" stroke-width="1.6"/>
<line x1="626.8" y1="138.4" x2="708.5" y2="138.4" stroke="#000" stroke-width="1.6"/>
<line x1="708.5" y1="44" x2="708.5" y2="166.8" stroke="#000" stroke-width="1.6"/>
<line x1="717.9" y1="96.9" x2="717.9" y2="166.8" stroke="#000" stroke-width="1.6"/>
<line x1="708.5" y1="96.9" x2="791.9" y2="96.9" stroke="#000" stroke-width="1.6"/>
<path d="M719.9 44 C720.28 45.58 721.27 50.3 722.2 53.5 C723.13 56.7 724.07 60.03 725.5 63.2 C726.93 66.37 728.67 69.73 730.8 72.5 C732.93 75.27 735.27 77.65 738.3 79.8 C741.33 81.95 744.75 83.8 749 85.4 C753.25 87 758.97 88.38 763.8 89.4 C768.63 90.42 773.32 90.97 778 91.5 C782.68 92.03 789.58 92.42 791.9 92.6" stroke="#000" fill="none" stroke-width="1.6"/>
<clipPath id="hz"><rect x="708.5" y="96.9" width="9.4" height="69.4"/></clipPath><g clip-path="url(#hz)">
<line x1="708.5" y1="85.4" x2="717.9" y2="95" stroke="#000" stroke-width="0.85"/>
<line x1="708.5" y1="97.6" x2="717.9" y2="107.2" stroke="#000" stroke-width="0.85"/>
<line x1="708.5" y1="109.8" x2="717.9" y2="119.4" stroke="#000" stroke-width="0.85"/>
<line x1="708.5" y1="122" x2="717.9" y2="131.6" stroke="#000" stroke-width="0.85"/>
<line x1="708.5" y1="134.2" x2="717.9" y2="143.8" stroke="#000" stroke-width="0.85"/>
<line x1="708.5" y1="146.4" x2="717.9" y2="156" stroke="#000" stroke-width="0.85"/>
<line x1="708.5" y1="158.6" x2="717.9" y2="168.2" stroke="#000" stroke-width="0.85"/>
</g>
<line x1="626.8" y1="166.8" x2="791.9" y2="166.8" stroke="#000" stroke-width="1.5" stroke-dasharray="5.6 4.4"/>
<line x1="635.7" y1="141.8" x2="635.7" y2="163.2" stroke="#1a1718" stroke-width="1.5"/>
<path d="M635.7 139 l-3.1 7.6 l3.1 -2.0 l3.1 2.0 Z" stroke="none" fill="#1a1718" stroke-width="1.2"/>
<path d="M635.7 166 l-3.1 -7.6 l3.1 2.0 l3.1 -2.0 Z" stroke="none" fill="#1a1718" stroke-width="1.2"/>
<line x1="759.2" y1="100.4" x2="759.2" y2="163.2" stroke="#1a1718" stroke-width="1.5"/>
<path d="M759.2 97.6 l-3.1 7.6 l3.1 -2.0 l3.1 2.0 Z" stroke="none" fill="#1a1718" stroke-width="1.2"/>
<path d="M759.2 166 l-3.1 -7.6 l3.1 2.0 l3.1 -2.0 Z" stroke="none" fill="#1a1718" stroke-width="1.2"/>
<line x1="684.6" y1="123.3" x2="690.5" y2="128" stroke="#000" stroke-width="1.2"/>
<path d="M695.4 132.0 L687.2 130.0 L690.4 127.9 L692.0 124.0 Z" stroke="none" fill="#000" stroke-width="1.2"/>
<text x="603.6" y="67.8" font-size="15" text-anchor="start" fill="#151213">Aluminium</text>
<text x="751.4" y="76" font-size="15" text-anchor="start" fill="#151213">NbTiN</text>
<text x="684.6" y="85.8" font-size="14.6" fill="#2b2728"><tspan>ρ</tspan><tspan dx="0.7" dy="2.5" font-size="8" font-style="italic" letter-spacing="0.05">Al</tspan></text>
<text x="711.6" y="85.8" font-size="14.6" fill="#2b2728"><tspan>ρ</tspan><tspan dx="0.7" dy="2.5" font-size="8" font-style="italic" letter-spacing="0.05">NbTiN</tspan></text>
<text x="720.8" y="124" font-size="14.6" fill="#2b2728"><tspan>ρ</tspan><tspan dx="0.7" dy="2.5" font-size="8" font-style="italic" letter-spacing="0.1">subgap</tspan></text>
<text x="670" y="117.5" font-size="14.4" fill="#2b2728"><tspan font-style="italic">n</tspan><tspan dx="-0.3" dy="5" font-size="8" font-style="italic" letter-spacing="0.05">qp</tspan></text>
<text x="641.6" y="155.7" font-size="14.6" fill="#2b2728"><tspan font-style="italic">Δ</tspan><tspan dx="0.7" dy="3.9" font-size="8" font-style="italic" letter-spacing="0.05">Al</tspan></text>
<text x="762.2" y="132.6" font-size="14.6" fill="#2b2728"><tspan font-style="italic">Δ</tspan><tspan dx="0.7" dy="4.7" font-size="8" font-style="italic" letter-spacing="0.05">NbTiN</tspan></text>
</svg>
</body></html>
